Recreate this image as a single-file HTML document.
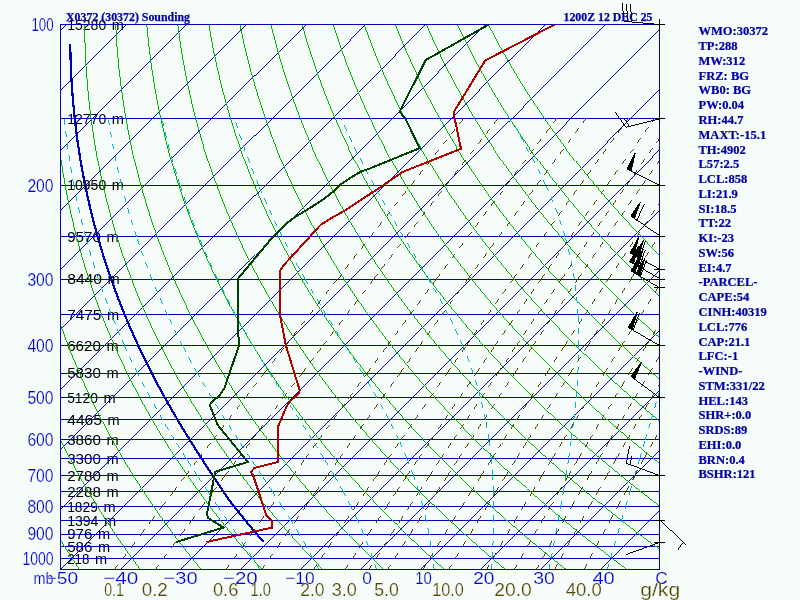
<!DOCTYPE html><html><head><meta charset="utf-8"><title>X0372 (30372) Sounding</title><style>html,body{margin:0;padding:0;background:#f5fcf9;overflow:hidden}svg{display:block}</style></head><body>
<svg width="800" height="600" viewBox="0 0 800 600">
<rect width="800" height="600" fill="#f5fcf9"/>
<defs><clipPath id="c"><rect x="60" y="24" width="600" height="546"/></clipPath></defs>
<g font-family="'Liberation Sans',Arial,sans-serif" stroke="#f5fcf9" stroke-width="0" font-size="14.6" fill="#000">
<text x="67.2" y="29.65"><tspan textLength="39" lengthAdjust="spacingAndGlyphs">15280</tspan> <tspan x="111.79">m</tspan></text>
<text x="67.2" y="123.68"><tspan textLength="39" lengthAdjust="spacingAndGlyphs">12770</tspan> <tspan x="111.79">m</tspan></text>
<text x="67.2" y="190.4"><tspan textLength="39" lengthAdjust="spacingAndGlyphs">10950</tspan> <tspan x="111.79">m</tspan></text>
<text x="67.2" y="242.15"><tspan textLength="33.6" lengthAdjust="spacingAndGlyphs">9570</tspan> <tspan x="106.39">m</tspan></text>
<text x="67.2" y="284.43"><tspan textLength="34.8" lengthAdjust="spacingAndGlyphs">8440</tspan> <tspan x="107.59">m</tspan></text>
<text x="67.2" y="320.18"><tspan textLength="34.2" lengthAdjust="spacingAndGlyphs">7475</tspan> <tspan x="106.99">m</tspan></text>
<text x="67.2" y="351.15"><tspan textLength="33.6" lengthAdjust="spacingAndGlyphs">6620</tspan> <tspan x="106.39">m</tspan></text>
<text x="67.2" y="378.47"><tspan textLength="33.6" lengthAdjust="spacingAndGlyphs">5830</tspan> <tspan x="106.39">m</tspan></text>
<text x="67.2" y="402.9"><tspan textLength="30.6" lengthAdjust="spacingAndGlyphs">5120</tspan> <tspan x="103.39">m</tspan></text>
<text x="67.2" y="425"><tspan textLength="34.8" lengthAdjust="spacingAndGlyphs">4465</tspan> <tspan x="107.59">m</tspan></text>
<text x="67.2" y="445.18"><tspan textLength="33.6" lengthAdjust="spacingAndGlyphs">3860</tspan> <tspan x="106.39">m</tspan></text>
<text x="67.2" y="463.75"><tspan textLength="33.6" lengthAdjust="spacingAndGlyphs">3300</tspan> <tspan x="106.39">m</tspan></text>
<text x="67.2" y="480.93"><tspan textLength="33.6" lengthAdjust="spacingAndGlyphs">2780</tspan> <tspan x="106.39">m</tspan></text>
<text x="67.2" y="496.93"><tspan textLength="33.6" lengthAdjust="spacingAndGlyphs">2288</tspan> <tspan x="106.39">m</tspan></text>
<text x="67.2" y="511.9"><tspan textLength="30.6" lengthAdjust="spacingAndGlyphs">1829</tspan> <tspan x="103.39">m</tspan></text>
<text x="67.2" y="525.96"><tspan textLength="31.2" lengthAdjust="spacingAndGlyphs">1394</tspan> <tspan x="103.99">m</tspan></text>
<text x="67.2" y="539.22"><tspan textLength="25.2" lengthAdjust="spacingAndGlyphs">976</tspan> <tspan x="97.99">m</tspan></text>
<text x="67.2" y="551.75"><tspan textLength="25.2" lengthAdjust="spacingAndGlyphs">586</tspan> <tspan x="97.99">m</tspan></text>
<text x="67.2" y="563.65"><tspan textLength="22.2" lengthAdjust="spacingAndGlyphs">218</tspan> <tspan x="94.99">m</tspan></text>
</g>
<g clip-path="url(#c)" shape-rendering="crispEdges">
<line x1="60" y1="118.5" x2="660" y2="118.5" stroke="#0000b4" stroke-width="0.99"/>
<line x1="60" y1="185.5" x2="660" y2="185.5" stroke="#0000b4" stroke-width="0.99"/>
<line x1="60" y1="236.5" x2="660" y2="236.5" stroke="#0000b4" stroke-width="0.99"/>
<line x1="60" y1="279.5" x2="660" y2="279.5" stroke="#0000b4" stroke-width="0.99"/>
<line x1="60" y1="314.5" x2="660" y2="314.5" stroke="#0000b4" stroke-width="0.99"/>
<line x1="60" y1="345.5" x2="660" y2="345.5" stroke="#0000b4" stroke-width="0.99"/>
<line x1="60" y1="373.5" x2="660" y2="373.5" stroke="#0000b4" stroke-width="0.99"/>
<line x1="60" y1="397.5" x2="660" y2="397.5" stroke="#0000b4" stroke-width="0.99"/>
<line x1="60" y1="419.5" x2="660" y2="419.5" stroke="#0000b4" stroke-width="0.99"/>
<line x1="60" y1="439.5" x2="660" y2="439.5" stroke="#0000b4" stroke-width="0.99"/>
<line x1="60" y1="458.5" x2="660" y2="458.5" stroke="#0000b4" stroke-width="0.99"/>
<line x1="60" y1="475.5" x2="660" y2="475.5" stroke="#0000b4" stroke-width="0.99"/>
<line x1="60" y1="491.5" x2="660" y2="491.5" stroke="#0000b4" stroke-width="0.99"/>
<line x1="60" y1="506.5" x2="660" y2="506.5" stroke="#0000b4" stroke-width="0.99"/>
<line x1="60" y1="520.5" x2="660" y2="520.5" stroke="#0000b4" stroke-width="0.99"/>
<line x1="60" y1="534.5" x2="660" y2="534.5" stroke="#0000b4" stroke-width="0.99"/>
<line x1="60" y1="546.5" x2="660" y2="546.5" stroke="#0000b4" stroke-width="0.99"/>
<line x1="60" y1="558.5" x2="660" y2="558.5" stroke="#0000b4" stroke-width="0.99"/>
<line x1="-478.7" y1="569.5" x2="65.17" y2="24.5" stroke="#0000b4" stroke-width="0.99"/>
<line x1="-418.74" y1="569.5" x2="125.13" y2="24.5" stroke="#0000b4" stroke-width="0.99"/>
<line x1="-358.78" y1="569.5" x2="185.1" y2="24.5" stroke="#0000b4" stroke-width="0.99"/>
<line x1="-298.81" y1="569.5" x2="245.06" y2="24.5" stroke="#0000b4" stroke-width="0.99"/>
<line x1="-238.85" y1="569.5" x2="305.02" y2="24.5" stroke="#0000b4" stroke-width="0.99"/>
<line x1="-178.89" y1="569.5" x2="364.98" y2="24.5" stroke="#0000b4" stroke-width="0.99"/>
<line x1="-118.92" y1="569.5" x2="424.95" y2="24.5" stroke="#0000b4" stroke-width="0.99"/>
<line x1="-58.96" y1="569.5" x2="484.91" y2="24.5" stroke="#0000b4" stroke-width="0.99"/>
<line x1="1" y1="569.5" x2="544.87" y2="24.5" stroke="#0000b4" stroke-width="0.99"/>
<line x1="60.96" y1="569.5" x2="604.84" y2="24.5" stroke="#0000b4" stroke-width="0.99"/>
<line x1="120.93" y1="569.5" x2="664.8" y2="24.5" stroke="#0000b4" stroke-width="0.99"/>
<line x1="180.89" y1="569.5" x2="724.76" y2="24.5" stroke="#0000b4" stroke-width="0.99"/>
<line x1="240.85" y1="569.5" x2="784.73" y2="24.5" stroke="#0000b4" stroke-width="0.99"/>
<line x1="300.82" y1="569.5" x2="844.69" y2="24.5" stroke="#0000b4" stroke-width="0.99"/>
<line x1="360.78" y1="569.5" x2="904.65" y2="24.5" stroke="#0000b4" stroke-width="0.99"/>
<line x1="420.74" y1="569.5" x2="964.61" y2="24.5" stroke="#0000b4" stroke-width="0.99"/>
<line x1="480.71" y1="569.5" x2="1024.58" y2="24.5" stroke="#0000b4" stroke-width="0.99"/>
<line x1="540.67" y1="569.5" x2="1084.54" y2="24.5" stroke="#0000b4" stroke-width="0.99"/>
<line x1="600.63" y1="569.5" x2="1144.5" y2="24.5" stroke="#0000b4" stroke-width="0.99"/>
<line x1="660.6" y1="569.5" x2="1204.47" y2="24.5" stroke="#0000b4" stroke-width="0.99"/>
<polyline points="79.75,569.77 78.26,567.55 76.76,565.31 75.26,563.04 73.76,560.76 72.25,558.45 70.74,556.12 69.22,553.76 67.7,551.39 66.18,548.98 64.65,546.55 63.11,544.1 61.58,541.62 60.04,539.11 58.49,536.58 56.94,534.02 55.39,531.42 53.83,528.8 52.27,526.15 50.7,523.47 49.13,520.76 47.56,518.02 45.98,515.24 44.4,512.43 42.81,509.58 41.22,506.7 39.63,503.78 38.03,500.83 36.43,497.84 34.83,494.8 33.22,491.73 31.6,488.62 29.99,485.46 28.37,482.27 26.75,479.02 25.12,475.73 23.49,472.4 21.86,469.01 20.23,465.57 18.59,462.09 16.95,458.55 15.31,454.95 13.67,451.3 12.02,447.59 10.38,443.82 8.73,439.98 7.08,436.08 5.43,432.12 3.77,428.09 2.12,423.98 0.47,419.8 -1.18,415.55 -2.83,411.21 -4.48,406.8 -6.13,402.29 -7.77,397.7 -9.41,393.01 -11.05,388.23 -12.68,383.35 -14.31,378.36 -15.93,373.27 -17.55,368.05 -19.15,362.72 -20.75,357.27 -22.34,351.68 -23.91,345.95 -25.47,340.08 -27.02,334.05 -28.55,327.87 -30.06,321.52 -31.55,314.98 -33.01,308.26 -34.45,301.34 -35.86,294.2 -37.23,286.84 -38.57,279.23 -39.86,271.37 -41.11,263.23 -42.3,254.8 -43.43,246.05 -44.49,236.95 -45.48,227.48 -46.38,217.61 -47.18,207.3 -47.87,196.52 -48.43,185.2 -48.84,173.3 -49.07,160.77 -49.11,147.51 -48.92,133.45 -48.45,118.48 -47.65,102.48 -46.47,85.3 -44.81,66.73 -42.58,46.55 -39.63,24.45" fill="none" stroke="#00b400" stroke-width="0.99" />
<polyline points="140.59,569.77 138.93,567.55 137.27,565.31 135.6,563.04 133.93,560.76 132.25,558.45 130.57,556.12 128.88,553.76 127.18,551.39 125.48,548.98 123.77,546.55 122.06,544.1 120.34,541.62 118.62,539.11 116.89,536.58 115.16,534.02 113.42,531.42 111.68,528.8 109.92,526.15 108.17,523.47 106.41,520.76 104.64,518.02 102.87,515.24 101.09,512.43 99.3,509.58 97.51,506.7 95.72,503.78 93.92,500.83 92.11,497.84 90.3,494.8 88.48,491.73 86.65,488.62 84.82,485.46 82.99,482.27 81.15,479.02 79.3,475.73 77.45,472.4 75.6,469.01 73.74,465.57 71.87,462.09 70,458.55 68.12,454.95 66.24,451.3 64.36,447.59 62.47,443.82 60.57,439.98 58.67,436.08 56.77,432.12 54.86,428.09 52.95,423.98 51.04,419.8 49.13,415.55 47.21,411.21 45.29,406.8 43.36,402.29 41.44,397.7 39.51,393.01 37.59,388.23 35.66,383.35 33.74,378.36 31.82,373.27 29.9,368.05 27.98,362.72 26.07,357.27 24.16,351.68 22.26,345.95 20.36,340.08 18.48,334.05 16.6,327.87 14.74,321.52 12.89,314.98 11.06,308.26 9.25,301.34 7.46,294.2 5.69,286.84 3.95,279.23 2.25,271.37 0.58,263.23 -1.04,254.8 -2.61,246.05 -4.13,236.95 -5.59,227.48 -6.97,217.61 -8.27,207.3 -9.47,196.52 -10.56,185.2 -11.52,173.3 -12.33,160.77 -12.97,147.51 -13.39,133.45 -13.57,118.48 -13.46,102.48 -12.99,85.3 -12.09,66.73 -10.66,46.55 -8.57,24.45" fill="none" stroke="#00b400" stroke-width="0.99" />
<polyline points="201.44,569.77 199.61,567.55 197.78,565.31 195.94,563.04 194.1,560.76 192.25,558.45 190.39,556.12 188.53,553.76 186.66,551.39 184.78,548.98 182.9,546.55 181.01,544.1 179.11,541.62 177.21,539.11 175.3,536.58 173.38,534.02 171.45,531.42 169.52,528.8 167.58,526.15 165.64,523.47 163.68,520.76 161.72,518.02 159.75,515.24 157.78,512.43 155.79,509.58 153.8,506.7 151.81,503.78 149.8,500.83 147.79,497.84 145.77,494.8 143.74,491.73 141.7,488.62 139.66,485.46 137.61,482.27 135.55,479.02 133.49,475.73 131.41,472.4 129.33,469.01 127.24,465.57 125.15,462.09 123.04,458.55 120.93,454.95 118.81,451.3 116.69,447.59 114.56,443.82 112.42,439.98 110.27,436.08 108.11,432.12 105.95,428.09 103.79,423.98 101.61,419.8 99.43,415.55 97.24,411.21 95.05,406.8 92.85,402.29 90.65,397.7 88.44,393.01 86.23,388.23 84.01,383.35 81.79,378.36 79.57,373.27 77.34,368.05 75.11,362.72 72.88,357.27 70.65,351.68 68.42,345.95 66.2,340.08 63.97,334.05 61.75,327.87 59.54,321.52 57.33,314.98 55.13,308.26 52.94,301.34 50.77,294.2 48.61,286.84 46.48,279.23 44.36,271.37 42.28,263.23 40.22,254.8 38.2,246.05 36.23,236.95 34.3,227.48 32.44,217.61 30.64,207.3 28.93,196.52 27.3,185.2 25.79,173.3 24.41,160.77 23.18,147.51 22.13,133.45 21.3,118.48 20.73,102.48 20.48,85.3 20.62,66.73 21.25,46.55 22.49,24.45" fill="none" stroke="#00b400" stroke-width="0.99" />
<polyline points="262.28,569.77 260.29,567.55 258.29,565.31 256.28,563.04 254.27,560.76 252.25,558.45 250.22,556.12 248.18,553.76 246.14,551.39 244.09,548.98 242.03,546.55 239.96,544.1 237.88,541.62 235.79,539.11 233.7,536.58 231.6,534.02 229.49,531.42 227.37,528.8 225.24,526.15 223.1,523.47 220.96,520.76 218.8,518.02 216.64,515.24 214.47,512.43 212.28,509.58 210.09,506.7 207.89,503.78 205.68,500.83 203.47,497.84 201.24,494.8 199,491.73 196.75,488.62 194.5,485.46 192.23,482.27 189.95,479.02 187.67,475.73 185.37,472.4 183.07,469.01 180.75,465.57 178.42,462.09 176.09,458.55 173.74,454.95 171.39,451.3 169.02,447.59 166.65,443.82 164.26,439.98 161.86,436.08 159.46,432.12 157.04,428.09 154.62,423.98 152.18,419.8 149.74,415.55 147.28,411.21 144.82,406.8 142.34,402.29 139.86,397.7 137.37,393.01 134.87,388.23 132.36,383.35 129.84,378.36 127.32,373.27 124.78,368.05 122.24,362.72 119.7,357.27 117.15,351.68 114.59,345.95 112.03,340.08 109.47,334.05 106.9,327.87 104.33,321.52 101.77,314.98 99.2,308.26 96.64,301.34 94.08,294.2 91.54,286.84 89,279.23 86.47,271.37 83.97,263.23 81.48,254.8 79.02,246.05 76.59,236.95 74.2,227.48 71.85,217.61 69.55,207.3 67.32,196.52 65.17,185.2 63.11,173.3 61.15,160.77 59.32,147.51 57.66,133.45 56.18,118.48 54.93,102.48 53.96,85.3 53.34,66.73 53.16,46.55 53.54,24.45" fill="none" stroke="#00b400" stroke-width="0.99" />
<polyline points="323.12,569.77 320.96,567.55 318.8,565.31 316.63,563.04 314.44,560.76 312.25,558.45 310.05,556.12 307.84,553.76 305.62,551.39 303.39,548.98 301.15,546.55 298.9,544.1 296.65,541.62 294.38,539.11 292.1,536.58 289.82,534.02 287.52,531.42 285.21,528.8 282.9,526.15 280.57,523.47 278.23,520.76 275.88,518.02 273.52,515.24 271.16,512.43 268.78,509.58 266.38,506.7 263.98,503.78 261.57,500.83 259.14,497.84 256.71,494.8 254.26,491.73 251.8,488.62 249.33,485.46 246.85,482.27 244.35,479.02 241.85,475.73 239.33,472.4 236.8,469.01 234.26,465.57 231.7,462.09 229.13,458.55 226.55,454.95 223.96,451.3 221.35,447.59 218.74,443.82 216.1,439.98 213.46,436.08 210.8,432.12 208.13,428.09 205.45,423.98 202.75,419.8 200.04,415.55 197.32,411.21 194.58,406.8 191.83,402.29 189.07,397.7 186.3,393.01 183.51,388.23 180.71,383.35 177.89,378.36 175.07,373.27 172.23,368.05 169.38,362.72 166.52,357.27 163.64,351.68 160.76,345.95 157.87,340.08 154.96,334.05 152.05,327.87 149.13,321.52 146.2,314.98 143.27,308.26 140.34,301.34 137.4,294.2 134.46,286.84 131.52,279.23 128.58,271.37 125.66,263.23 122.74,254.8 119.84,246.05 116.95,236.95 114.09,227.48 111.26,217.61 108.47,207.3 105.72,196.52 103.04,185.2 100.42,173.3 97.89,160.77 95.47,147.51 93.18,133.45 91.05,118.48 89.12,102.48 87.44,85.3 86.06,66.73 85.08,46.55 84.6,24.45" fill="none" stroke="#00b400" stroke-width="0.99" />
<polyline points="383.96,569.77 381.64,567.55 379.31,565.31 376.97,563.04 374.61,560.76 372.25,558.45 369.88,556.12 367.49,553.76 365.1,551.39 362.69,548.98 360.28,546.55 357.85,544.1 355.41,541.62 352.97,539.11 350.51,536.58 348.04,534.02 345.55,531.42 343.06,528.8 340.55,526.15 338.04,523.47 335.51,520.76 332.97,518.02 330.41,515.24 327.84,512.43 325.27,509.58 322.67,506.7 320.07,503.78 317.45,500.83 314.82,497.84 312.18,494.8 309.52,491.73 306.85,488.62 304.17,485.46 301.47,482.27 298.76,479.02 296.03,475.73 293.29,472.4 290.53,469.01 287.76,465.57 284.98,462.09 282.18,458.55 279.36,454.95 276.53,451.3 273.69,447.59 270.83,443.82 267.95,439.98 265.06,436.08 262.15,432.12 259.22,428.09 256.28,423.98 253.32,419.8 250.35,415.55 247.36,411.21 244.35,406.8 241.32,402.29 238.28,397.7 235.22,393.01 232.15,388.23 229.05,383.35 225.94,378.36 222.82,373.27 219.67,368.05 216.51,362.72 213.33,357.27 210.14,351.68 206.93,345.95 203.7,340.08 200.46,334.05 197.2,327.87 193.93,321.52 190.64,314.98 187.34,308.26 184.03,301.34 180.71,294.2 177.38,286.84 174.04,279.23 170.7,271.37 167.35,263.23 164,254.8 160.65,246.05 157.31,236.95 153.98,227.48 150.67,217.61 147.38,207.3 144.12,196.52 140.9,185.2 137.73,173.3 134.63,160.77 131.62,147.51 128.71,133.45 125.93,118.48 123.31,102.48 120.91,85.3 118.78,66.73 116.99,46.55 115.66,24.45" fill="none" stroke="#00b400" stroke-width="0.99" />
<polyline points="444.81,569.77 442.32,567.55 439.82,565.31 437.31,563.04 434.78,560.76 432.25,558.45 429.7,556.12 427.15,553.76 424.58,551.39 422,548.98 419.4,546.55 416.8,544.1 414.18,541.62 411.55,539.11 408.91,536.58 406.25,534.02 403.59,531.42 400.91,528.8 398.21,526.15 395.5,523.47 392.78,520.76 390.05,518.02 387.3,515.24 384.53,512.43 381.76,509.58 378.97,506.7 376.16,503.78 373.34,500.83 370.5,497.84 367.65,494.8 364.78,491.73 361.9,488.62 359,485.46 356.09,482.27 353.16,479.02 350.21,475.73 347.25,472.4 344.27,469.01 341.27,465.57 338.26,462.09 335.22,458.55 332.17,454.95 329.11,451.3 326.02,447.59 322.92,443.82 319.79,439.98 316.65,436.08 313.49,432.12 310.31,428.09 307.11,423.98 303.89,419.8 300.65,415.55 297.39,411.21 294.11,406.8 290.81,402.29 287.49,397.7 284.15,393.01 280.79,388.23 277.4,383.35 273.99,378.36 270.57,373.27 267.12,368.05 263.64,362.72 260.15,357.27 256.63,351.68 253.09,345.95 249.54,340.08 245.95,334.05 242.35,327.87 238.73,321.52 235.08,314.98 231.41,308.26 227.73,301.34 224.02,294.2 220.3,286.84 216.56,279.23 212.81,271.37 209.04,263.23 205.26,254.8 201.47,246.05 197.67,236.95 193.87,227.48 190.08,217.61 186.29,207.3 182.52,196.52 178.77,185.2 175.05,173.3 171.38,160.77 167.76,147.51 164.23,133.45 160.8,118.48 157.51,102.48 154.39,85.3 151.5,66.73 148.91,46.55 146.71,24.45" fill="none" stroke="#00b400" stroke-width="0.99" />
<polyline points="505.65,569.77 503,567.55 500.33,565.31 497.65,563.04 494.95,560.76 492.25,558.45 489.53,556.12 486.8,553.76 484.06,551.39 481.3,548.98 478.53,546.55 475.75,544.1 472.95,541.62 470.14,539.11 467.31,536.58 464.47,534.02 461.62,531.42 458.75,528.8 455.87,526.15 452.97,523.47 450.06,520.76 447.13,518.02 444.18,515.24 441.22,512.43 438.25,509.58 435.26,506.7 432.25,503.78 429.22,500.83 426.18,497.84 423.12,494.8 420.04,491.73 416.95,488.62 413.84,485.46 410.71,482.27 407.56,479.02 404.39,475.73 401.21,472.4 398,469.01 394.78,465.57 391.53,462.09 388.27,458.55 384.98,454.95 381.68,451.3 378.35,447.59 375.01,443.82 371.64,439.98 368.25,436.08 364.84,432.12 361.4,428.09 357.94,423.98 354.46,419.8 350.96,415.55 347.43,411.21 343.88,406.8 340.3,402.29 336.7,397.7 333.08,393.01 329.42,388.23 325.75,383.35 322.04,378.36 318.31,373.27 314.56,368.05 310.78,362.72 306.97,357.27 303.13,351.68 299.26,345.95 295.37,340.08 291.45,334.05 287.5,327.87 283.52,321.52 279.52,314.98 275.49,308.26 271.43,301.34 267.34,294.2 263.22,286.84 259.08,279.23 254.92,271.37 250.73,263.23 246.52,254.8 242.28,246.05 238.03,236.95 233.77,227.48 229.49,217.61 225.2,207.3 220.92,196.52 216.63,185.2 212.36,173.3 208.12,160.77 203.91,147.51 199.75,133.45 195.68,118.48 191.7,102.48 187.87,85.3 184.22,66.73 180.82,46.55 177.77,24.45" fill="none" stroke="#00b400" stroke-width="0.99" />
<polyline points="566.49,569.77 563.67,567.55 560.84,565.31 557.99,563.04 555.13,560.76 552.25,558.45 549.36,556.12 546.46,553.76 543.54,551.39 540.6,548.98 537.66,546.55 534.69,544.1 531.72,541.62 528.72,539.11 525.72,536.58 522.69,534.02 519.65,531.42 516.6,528.8 513.53,526.15 510.44,523.47 507.33,520.76 504.21,518.02 501.07,515.24 497.91,512.43 494.74,509.58 491.55,506.7 488.34,503.78 485.11,500.83 481.86,497.84 478.59,494.8 475.3,491.73 472,488.62 468.67,485.46 465.33,482.27 461.96,479.02 458.57,475.73 455.16,472.4 451.74,469.01 448.28,465.57 444.81,462.09 441.31,458.55 437.79,454.95 434.25,451.3 430.69,447.59 427.1,443.82 423.48,439.98 419.84,436.08 416.18,432.12 412.49,428.09 408.77,423.98 405.03,419.8 401.26,415.55 397.47,411.21 393.64,406.8 389.79,402.29 385.91,397.7 382,393.01 378.06,388.23 374.09,383.35 370.1,378.36 366.06,373.27 362,368.05 357.91,362.72 353.78,357.27 349.62,351.68 345.43,345.95 341.2,340.08 336.94,334.05 332.65,327.87 328.32,321.52 323.96,314.98 319.56,308.26 315.12,301.34 310.65,294.2 306.15,286.84 301.6,279.23 297.03,271.37 292.42,263.23 287.78,254.8 283.1,246.05 278.39,236.95 273.66,227.48 268.9,217.61 264.12,207.3 259.31,196.52 254.5,185.2 249.68,173.3 244.86,160.77 240.05,147.51 235.28,133.45 230.55,118.48 225.89,102.48 221.34,85.3 216.94,66.73 212.74,46.55 208.83,24.45" fill="none" stroke="#00b400" stroke-width="0.99" />
<polyline points="627.34,569.77 624.35,567.55 621.35,565.31 618.33,563.04 615.3,560.76 612.25,558.45 609.19,556.12 606.11,553.76 603.02,551.39 599.91,548.98 596.78,546.55 593.64,544.1 590.49,541.62 587.31,539.11 584.12,536.58 580.91,534.02 577.69,531.42 574.44,528.8 571.18,526.15 567.9,523.47 564.61,520.76 561.29,518.02 557.96,515.24 554.6,512.43 551.23,509.58 547.84,506.7 544.42,503.78 540.99,500.83 537.54,497.84 534.06,494.8 530.57,491.73 527.05,488.62 523.51,485.46 519.95,482.27 516.36,479.02 512.75,475.73 509.12,472.4 505.47,469.01 501.79,465.57 498.09,462.09 494.36,458.55 490.6,454.95 486.83,451.3 483.02,447.59 479.19,443.82 475.33,439.98 471.44,436.08 467.52,432.12 463.58,428.09 459.61,423.98 455.6,419.8 451.57,415.55 447.51,411.21 443.41,406.8 439.28,402.29 435.12,397.7 430.93,393.01 426.7,388.23 422.44,383.35 418.15,378.36 413.81,373.27 409.45,368.05 405.04,362.72 400.6,357.27 396.12,351.68 391.6,345.95 387.04,340.08 382.44,334.05 377.8,327.87 373.12,321.52 368.39,314.98 363.63,308.26 358.82,301.34 353.96,294.2 349.07,286.84 344.13,279.23 339.14,271.37 334.11,263.23 329.04,254.8 323.92,246.05 318.76,236.95 313.55,227.48 308.31,217.61 303.03,207.3 297.71,196.52 292.36,185.2 286.99,173.3 281.6,160.77 276.2,147.51 270.8,133.45 265.43,118.48 260.09,102.48 254.82,85.3 249.66,66.73 244.65,46.55 239.88,24.45" fill="none" stroke="#00b400" stroke-width="0.99" />
<polyline points="688.18,569.77 685.03,567.55 681.86,565.31 678.67,563.04 675.47,560.76 672.25,558.45 669.02,556.12 665.76,553.76 662.5,551.39 659.21,548.98 655.91,546.55 652.59,544.1 649.25,541.62 645.9,539.11 642.52,536.58 639.13,534.02 635.72,531.42 632.29,528.8 628.84,526.15 625.37,523.47 621.88,520.76 618.37,518.02 614.84,515.24 611.29,512.43 607.72,509.58 604.13,506.7 600.51,503.78 596.87,500.83 593.21,497.84 589.53,494.8 585.83,491.73 582.1,488.62 578.34,485.46 574.57,482.27 570.76,479.02 566.94,475.73 563.08,472.4 559.2,469.01 555.3,465.57 551.36,462.09 547.4,458.55 543.42,454.95 539.4,451.3 535.35,447.59 531.28,443.82 527.17,439.98 523.04,436.08 518.87,432.12 514.67,428.09 510.44,423.98 506.17,419.8 501.88,415.55 497.54,411.21 493.18,406.8 488.77,402.29 484.33,397.7 479.86,393.01 475.34,388.23 470.79,383.35 466.2,378.36 461.56,373.27 456.89,368.05 452.17,362.72 447.42,357.27 442.61,351.68 437.77,345.95 432.87,340.08 427.94,334.05 422.95,327.87 417.92,321.52 412.83,314.98 407.7,308.26 402.51,301.34 397.28,294.2 391.99,286.84 386.65,279.23 381.25,271.37 375.8,263.23 370.29,254.8 364.73,246.05 359.12,236.95 353.44,227.48 347.72,217.61 341.94,207.3 336.11,196.52 330.23,185.2 324.31,173.3 318.34,160.77 312.35,147.51 306.33,133.45 300.3,118.48 294.28,102.48 288.29,85.3 282.37,66.73 276.57,46.55 270.94,24.45" fill="none" stroke="#00b400" stroke-width="0.99" />
<polyline points="749.02,569.77 745.7,567.55 742.36,565.31 739.01,563.04 735.64,560.76 732.25,558.45 728.84,556.12 725.42,553.76 721.98,551.39 718.52,548.98 715.04,546.55 711.54,544.1 708.02,541.62 704.48,539.11 700.93,536.58 697.35,534.02 693.75,531.42 690.14,528.8 686.5,526.15 682.84,523.47 679.16,520.76 675.45,518.02 671.73,515.24 667.98,512.43 664.21,509.58 660.42,506.7 656.6,503.78 652.76,500.83 648.89,497.84 645,494.8 641.09,491.73 637.15,488.62 633.18,485.46 629.19,482.27 625.17,479.02 621.12,475.73 617.04,472.4 612.94,469.01 608.8,465.57 604.64,462.09 600.45,458.55 596.23,454.95 591.97,451.3 587.69,447.59 583.37,443.82 579.02,439.98 574.63,436.08 570.21,432.12 565.76,428.09 561.27,423.98 556.74,419.8 552.18,415.55 547.58,411.21 542.94,406.8 538.26,402.29 533.54,397.7 528.78,393.01 523.98,388.23 519.14,383.35 514.25,378.36 509.31,373.27 504.33,368.05 499.31,362.72 494.23,357.27 489.11,351.68 483.93,345.95 478.71,340.08 473.43,334.05 468.1,327.87 462.71,321.52 457.27,314.98 451.77,308.26 446.21,301.34 440.59,294.2 434.91,286.84 429.17,279.23 423.36,271.37 417.49,263.23 411.55,254.8 405.55,246.05 399.48,236.95 393.34,227.48 387.13,217.61 380.85,207.3 374.51,196.52 368.1,185.2 361.62,173.3 355.08,160.77 348.49,147.51 341.85,133.45 335.18,118.48 328.47,102.48 321.77,85.3 315.09,66.73 308.48,46.55 301.99,24.45" fill="none" stroke="#00b400" stroke-width="0.99" />
<polyline points="809.87,569.77 806.38,567.55 802.87,565.31 799.35,563.04 795.81,560.76 792.25,558.45 788.67,556.12 785.07,553.76 781.46,551.39 777.82,548.98 774.16,546.55 770.49,544.1 766.79,541.62 763.07,539.11 759.33,536.58 755.57,534.02 751.79,531.42 747.98,528.8 744.15,526.15 740.3,523.47 736.43,520.76 732.54,518.02 728.62,515.24 724.67,512.43 720.7,509.58 716.71,506.7 712.69,503.78 708.64,500.83 704.57,497.84 700.47,494.8 696.35,491.73 692.2,488.62 688.01,485.46 683.81,482.27 679.57,479.02 675.3,475.73 671,472.4 666.67,469.01 662.31,465.57 657.92,462.09 653.49,458.55 649.04,454.95 644.54,451.3 640.02,447.59 635.46,443.82 630.86,439.98 626.23,436.08 621.56,432.12 616.85,428.09 612.1,423.98 607.31,419.8 602.49,415.55 597.62,411.21 592.71,406.8 587.75,402.29 582.75,397.7 577.71,393.01 572.62,388.23 567.48,383.35 562.3,378.36 557.06,373.27 551.78,368.05 546.44,362.72 541.05,357.27 535.6,351.68 530.1,345.95 524.54,340.08 518.93,334.05 513.25,327.87 507.51,321.52 501.71,314.98 495.84,308.26 489.91,301.34 483.91,294.2 477.83,286.84 471.69,279.23 465.47,271.37 459.18,263.23 452.81,254.8 446.37,246.05 439.84,236.95 433.23,227.48 426.54,217.61 419.76,207.3 412.9,196.52 405.96,185.2 398.93,173.3 391.83,160.77 384.64,147.51 377.38,133.45 370.05,118.48 362.67,102.48 355.25,85.3 347.81,66.73 340.4,46.55 333.05,24.45" fill="none" stroke="#00b400" stroke-width="0.99" />
<polyline points="870.71,569.77 867.06,567.55 863.38,565.31 859.69,563.04 855.98,560.76 852.25,558.45 848.5,556.12 844.73,553.76 840.94,551.39 837.12,548.98 833.29,546.55 829.43,544.1 825.56,541.62 821.66,539.11 817.73,536.58 813.79,534.02 809.82,531.42 805.83,528.8 801.81,526.15 797.77,523.47 793.71,520.76 789.62,518.02 785.5,515.24 781.36,512.43 777.19,509.58 773,506.7 768.78,503.78 764.53,500.83 760.25,497.84 755.94,494.8 751.61,491.73 747.25,488.62 742.85,485.46 738.42,482.27 733.97,479.02 729.48,475.73 724.96,472.4 720.4,469.01 715.82,465.57 711.2,462.09 706.54,458.55 701.85,454.95 697.12,451.3 692.35,447.59 687.55,443.82 682.7,439.98 677.82,436.08 672.9,432.12 667.94,428.09 662.93,423.98 657.88,419.8 652.79,415.55 647.66,411.21 642.47,406.8 637.24,402.29 631.96,397.7 626.64,393.01 621.26,388.23 615.83,383.35 610.35,378.36 604.81,373.27 599.22,368.05 593.57,362.72 587.87,357.27 582.1,351.68 576.27,345.95 570.38,340.08 564.42,334.05 558.4,327.87 552.31,321.52 546.15,314.98 539.91,308.26 533.6,301.34 527.22,294.2 520.76,286.84 514.21,279.23 507.58,271.37 500.87,263.23 494.07,254.8 487.18,246.05 480.2,236.95 473.12,227.48 465.95,217.61 458.68,207.3 451.3,196.52 443.83,185.2 436.25,173.3 428.57,160.77 420.78,147.51 412.9,133.45 404.93,118.48 396.86,102.48 388.72,85.3 380.53,66.73 372.31,46.55 364.11,24.45" fill="none" stroke="#00b400" stroke-width="0.99" />
<polyline points="931.55,569.77 927.73,567.55 923.89,565.31 920.03,563.04 916.15,560.76 912.25,558.45 908.33,556.12 904.38,553.76 900.42,551.39 896.43,548.98 892.41,546.55 888.38,544.1 884.32,541.62 880.24,539.11 876.14,536.58 872.01,534.02 867.85,531.42 863.67,528.8 859.47,526.15 855.24,523.47 850.98,520.76 846.7,518.02 842.39,515.24 838.05,512.43 833.68,509.58 829.29,506.7 824.87,503.78 820.41,500.83 815.93,497.84 811.42,494.8 806.87,491.73 802.29,488.62 797.69,485.46 793.04,482.27 788.37,479.02 783.66,475.73 778.92,472.4 774.14,469.01 769.32,465.57 764.47,462.09 759.58,458.55 754.66,454.95 749.69,451.3 744.68,447.59 739.64,443.82 734.55,439.98 729.42,436.08 724.25,432.12 719.03,428.09 713.76,423.98 708.45,419.8 703.1,415.55 697.69,411.21 692.24,406.8 686.73,402.29 681.17,397.7 675.56,393.01 669.9,388.23 664.18,383.35 658.4,378.36 652.56,373.27 646.66,368.05 640.71,362.72 634.68,357.27 628.59,351.68 622.44,345.95 616.21,340.08 609.92,334.05 603.55,327.87 597.11,321.52 590.58,314.98 583.98,308.26 577.3,301.34 570.53,294.2 563.68,286.84 556.73,279.23 549.7,271.37 542.56,263.23 535.33,254.8 528,246.05 520.56,236.95 513.01,227.48 505.36,217.61 497.59,207.3 489.7,196.52 481.69,185.2 473.56,173.3 465.31,160.77 456.93,147.51 448.43,133.45 439.8,118.48 431.06,102.48 422.2,85.3 413.25,66.73 404.23,46.55 395.16,24.45" fill="none" stroke="#00b400" stroke-width="0.99" />
<polyline points="992.4,569.77 988.41,567.55 984.4,565.31 980.37,563.04 976.32,560.76 972.25,558.45 968.15,556.12 964.04,553.76 959.89,551.39 955.73,548.98 951.54,546.55 947.33,544.1 943.09,541.62 938.83,539.11 934.54,536.58 930.23,534.02 925.89,531.42 921.52,528.8 917.13,526.15 912.71,523.47 908.26,520.76 903.78,518.02 899.27,515.24 894.74,512.43 890.17,509.58 885.58,506.7 880.95,503.78 876.3,500.83 871.61,497.84 866.89,494.8 862.13,491.73 857.34,488.62 852.52,485.46 847.66,482.27 842.77,479.02 837.84,475.73 832.88,472.4 827.87,469.01 822.83,465.57 817.75,462.09 812.63,458.55 807.47,454.95 802.26,451.3 797.02,447.59 791.73,443.82 786.39,439.98 781.01,436.08 775.59,432.12 770.12,428.09 764.6,423.98 759.02,419.8 753.4,415.55 747.73,411.21 742,406.8 736.22,402.29 730.39,397.7 724.49,393.01 718.54,388.23 712.53,383.35 706.45,378.36 700.31,373.27 694.11,368.05 687.84,362.72 681.5,357.27 675.09,351.68 668.61,345.95 662.05,340.08 655.41,334.05 648.7,327.87 641.9,321.52 635.02,314.98 628.05,308.26 621,301.34 613.85,294.2 606.6,286.84 599.25,279.23 591.81,271.37 584.25,263.23 576.59,254.8 568.81,246.05 560.92,236.95 552.91,227.48 544.77,217.61 536.5,207.3 528.1,196.52 519.56,185.2 510.88,173.3 502.05,160.77 493.08,147.51 483.95,133.45 474.68,118.48 465.25,102.48 455.68,85.3 445.97,66.73 436.14,46.55 426.22,24.45" fill="none" stroke="#00b400" stroke-width="0.99" />
<polyline points="1053.24,569.77 1049.09,567.55 1044.91,565.31 1040.71,563.04 1036.49,560.76 1032.25,558.45 1027.98,556.12 1023.69,553.76 1019.37,551.39 1015.03,548.98 1010.67,546.55 1006.28,544.1 1001.86,541.62 997.41,539.11 992.94,536.58 988.44,534.02 983.92,531.42 979.37,528.8 974.78,526.15 970.17,523.47 965.53,520.76 960.86,518.02 956.16,515.24 951.43,512.43 946.67,509.58 941.87,506.7 937.04,503.78 932.18,500.83 927.29,497.84 922.36,494.8 917.39,491.73 912.39,488.62 907.36,485.46 902.28,482.27 897.17,479.02 892.02,475.73 886.84,472.4 881.61,469.01 876.34,465.57 871.03,462.09 865.67,458.55 860.28,454.95 854.84,451.3 849.35,447.59 843.82,443.82 838.24,439.98 832.61,436.08 826.93,432.12 821.21,428.09 815.43,423.98 809.59,419.8 803.71,415.55 797.77,411.21 791.77,406.8 785.71,402.29 779.6,397.7 773.42,393.01 767.18,388.23 760.87,383.35 754.5,378.36 748.06,373.27 741.55,368.05 734.97,362.72 728.32,357.27 721.58,351.68 714.77,345.95 707.88,340.08 700.91,334.05 693.85,327.87 686.7,321.52 679.46,314.98 672.13,308.26 664.69,301.34 657.16,294.2 649.52,286.84 641.78,279.23 633.92,271.37 625.94,263.23 617.85,254.8 609.63,246.05 601.28,236.95 592.8,227.48 584.18,217.61 575.41,207.3 566.5,196.52 557.42,185.2 548.19,173.3 538.79,160.77 529.22,147.51 519.48,133.45 509.55,118.48 499.44,102.48 489.15,85.3 478.69,66.73 468.05,46.55 457.28,24.45" fill="none" stroke="#00b400" stroke-width="0.99" />
<polyline points="1114.08,569.77 1109.76,567.55 1105.42,565.31 1101.06,563.04 1096.66,560.76 1092.25,558.45 1087.81,556.12 1083.34,553.76 1078.85,551.39 1074.34,548.98 1069.79,546.55 1065.22,544.1 1060.63,541.62 1056,539.11 1051.35,536.58 1046.66,534.02 1041.95,531.42 1037.21,528.8 1032.44,526.15 1027.64,523.47 1022.81,520.76 1017.94,518.02 1013.05,515.24 1008.12,512.43 1003.16,509.58 998.16,506.7 993.13,503.78 988.07,500.83 982.96,497.84 977.83,494.8 972.65,491.73 967.44,488.62 962.19,485.46 956.9,482.27 951.57,479.02 946.2,475.73 940.79,472.4 935.34,469.01 929.84,465.57 924.3,462.09 918.72,458.55 913.09,454.95 907.41,451.3 901.68,447.59 895.91,443.82 890.08,439.98 884.21,436.08 878.28,432.12 872.3,428.09 866.26,423.98 860.17,419.8 854.01,415.55 847.8,411.21 841.53,406.8 835.2,402.29 828.81,397.7 822.34,393.01 815.82,388.23 809.22,383.35 802.55,378.36 795.81,373.27 789,368.05 782.1,362.72 775.13,357.27 768.08,351.68 760.94,345.95 753.72,340.08 746.4,334.05 739,327.87 731.5,321.52 723.9,314.98 716.2,308.26 708.39,301.34 700.47,294.2 692.44,286.84 684.3,279.23 676.03,271.37 667.63,263.23 659.11,254.8 650.45,246.05 641.64,236.95 632.69,227.48 623.59,217.61 614.32,207.3 604.89,196.52 595.29,185.2 585.51,173.3 575.53,160.77 565.37,147.51 555,133.45 544.43,118.48 533.64,102.48 522.63,85.3 511.41,66.73 499.97,46.55 488.33,24.45" fill="none" stroke="#00b400" stroke-width="0.99" />
<polyline points="260.12,569.77 259.42,568.66 258.71,567.55 258,566.43 257.28,565.31 256.56,564.18 255.83,563.04 255.09,561.9 254.35,560.76 253.6,559.61 252.85,558.45" fill="none" stroke="#00b4c8" stroke-width="0.99" stroke-dasharray="6 6.2"/>
<polyline points="252.85,558.45 252.09,557.29 251.33,556.12 250.56,554.94 249.78,553.76 249,552.58 248.22,551.39 247.42,550.19 246.63,548.98 245.82,547.77 245.01,546.55" fill="none" stroke="#00b4c8" stroke-width="0.99" stroke-dasharray="6 6.2"/>
<polyline points="245.01,546.55 244.2,545.33 243.38,544.1 242.55,542.86 241.72,541.62 240.88,540.37 240.04,539.11 239.19,537.85 238.33,536.58 237.47,535.3 236.6,534.02" fill="none" stroke="#00b4c8" stroke-width="0.99" stroke-dasharray="6 6.2"/>
<polyline points="236.6,534.02 235.73,532.72 234.85,531.42 233.97,530.12 233.08,528.8 232.18,527.48 231.28,526.15 230.37,524.82 229.46,523.47 228.54,522.12 227.62,520.76" fill="none" stroke="#00b4c8" stroke-width="0.99" stroke-dasharray="6 6.2"/>
<polyline points="227.62,520.76 226.69,519.39 225.75,518.02 224.81,516.63 223.86,515.24 222.91,513.84 221.95,512.43 220.99,511.01 220.02,509.58 219.04,508.15 218.06,506.7" fill="none" stroke="#00b4c8" stroke-width="0.99" stroke-dasharray="6 6.2"/>
<polyline points="218.06,506.7 217.08,505.25 216.08,503.78 215.09,502.31 214.09,500.83 213.08,499.34 212.06,497.84 211.05,496.33 210.02,494.8 208.99,493.27 207.96,491.73" fill="none" stroke="#00b4c8" stroke-width="0.99" stroke-dasharray="6 6.2"/>
<polyline points="207.96,491.73 206.92,490.18 205.87,488.62 204.82,487.05 203.77,485.46 202.71,483.87 201.64,482.27 200.57,480.65 199.5,479.02 198.42,477.38 197.33,475.73" fill="none" stroke="#00b4c8" stroke-width="0.99" stroke-dasharray="6 6.2"/>
<polyline points="197.33,475.73 196.24,474.07 195.15,472.4 194.05,470.71 192.94,469.01 191.83,467.3 190.72,465.57 189.6,463.84 188.48,462.09 187.35,460.32 186.21,458.55" fill="none" stroke="#00b4c8" stroke-width="0.99" stroke-dasharray="6 6.2"/>
<polyline points="186.21,458.55 185.08,456.75 183.94,454.95 182.79,453.13 181.64,451.3 180.48,449.45 179.32,447.59 178.16,445.71 176.99,443.82 175.82,441.91 174.64,439.98" fill="none" stroke="#00b4c8" stroke-width="0.99" stroke-dasharray="6 6.2"/>
<polyline points="174.64,439.98 173.46,438.04 172.28,436.08 171.09,434.11 169.89,432.12 168.7,430.11 167.5,428.09 166.29,426.04 165.08,423.98 163.87,421.9 162.65,419.8" fill="none" stroke="#00b4c8" stroke-width="0.99" stroke-dasharray="6 6.2"/>
<polyline points="162.65,419.8 161.43,417.69 160.21,415.55 158.98,413.39 157.75,411.21 156.52,409.02 155.28,406.8 154.04,404.56 152.79,402.29 151.55,400.01 150.29,397.7" fill="none" stroke="#00b4c8" stroke-width="0.99" stroke-dasharray="6 6.2"/>
<polyline points="150.29,397.7 149.04,395.37 147.78,393.01 146.52,390.64 145.26,388.23 143.99,385.8 142.72,383.35 141.45,380.87 140.17,378.36 138.9,375.83 137.62,373.27" fill="none" stroke="#00b4c8" stroke-width="0.99" stroke-dasharray="6 6.2"/>
<polyline points="137.62,373.27 136.33,370.67 135.05,368.05 133.76,365.4 132.47,362.72 131.18,360.01 129.88,357.27 128.58,354.49 127.28,351.68 125.98,348.83 124.68,345.95" fill="none" stroke="#00b4c8" stroke-width="0.99" stroke-dasharray="6 6.2"/>
<polyline points="124.68,345.95 123.38,343.03 122.07,340.08 120.77,337.09 119.46,334.05 118.15,330.98 116.84,327.87 115.53,324.71 114.22,321.52 112.9,318.27 111.59,314.98" fill="none" stroke="#00b4c8" stroke-width="0.99" stroke-dasharray="6 6.2"/>
<polyline points="111.59,314.98 110.28,311.65 108.97,308.26 107.65,304.82 106.34,301.34 105.03,297.8 103.72,294.2 102.42,290.55 101.11,286.84 99.81,283.07 98.51,279.23" fill="none" stroke="#00b4c8" stroke-width="0.99" stroke-dasharray="6 6.2"/>
<polyline points="98.51,279.23 97.21,275.33 95.91,271.37 94.62,267.34 93.33,263.23 92.05,259.05 90.77,254.8 89.5,250.46 88.24,246.05 86.98,241.54 85.73,236.95" fill="none" stroke="#00b4c8" stroke-width="0.99" stroke-dasharray="6 6.2"/>
<polyline points="85.73,236.95 84.49,232.26 83.25,227.48 82.03,222.6 80.82,217.61 79.62,212.52 78.44,207.3 77.27,201.97 76.12,196.52 74.98,190.93 73.87,185.2" fill="none" stroke="#00b4c8" stroke-width="0.99" stroke-dasharray="6 6.2"/>
<polyline points="73.87,185.2 72.78,179.33 71.71,173.3 70.67,167.12 69.65,160.77 68.67,154.23 67.72,147.51 66.81,140.59 65.94,133.45 65.11,126.09 64.34,118.48" fill="none" stroke="#00b4c8" stroke-width="0.99" stroke-dasharray="6 6.2"/>
<polyline points="318.69,569.77 318.13,568.66 317.57,567.55 317,566.43 316.43,565.31 315.85,564.18 315.26,563.04 314.67,561.9 314.07,560.76 313.46,559.61 312.85,558.45" fill="none" stroke="#00b4c8" stroke-width="0.99" stroke-dasharray="6 6.2"/>
<polyline points="312.85,558.45 312.23,557.29 311.6,556.12 310.97,554.94 310.33,553.76 309.68,552.58 309.03,551.39 308.37,550.19 307.7,548.98 307.03,547.77 306.34,546.55" fill="none" stroke="#00b4c8" stroke-width="0.99" stroke-dasharray="6 6.2"/>
<polyline points="306.34,546.55 305.65,545.33 304.96,544.1 304.25,542.86 303.54,541.62 302.82,540.37 302.09,539.11 301.36,537.85 300.61,536.58 299.86,535.3 299.1,534.02" fill="none" stroke="#00b4c8" stroke-width="0.99" stroke-dasharray="6 6.2"/>
<polyline points="299.1,534.02 298.34,532.72 297.56,531.42 296.78,530.12 295.99,528.8 295.19,527.48 294.39,526.15 293.57,524.82 292.75,523.47 291.92,522.12 291.08,520.76" fill="none" stroke="#00b4c8" stroke-width="0.99" stroke-dasharray="6 6.2"/>
<polyline points="291.08,520.76 290.24,519.39 289.38,518.02 288.52,516.63 287.64,515.24 286.76,513.84 285.88,512.43 284.98,511.01 284.07,509.58 283.16,508.15 282.23,506.7" fill="none" stroke="#00b4c8" stroke-width="0.99" stroke-dasharray="6 6.2"/>
<polyline points="282.23,506.7 281.3,505.25 280.36,503.78 279.41,502.31 278.46,500.83 277.49,499.34 276.52,497.84 275.53,496.33 274.54,494.8 273.54,493.27 272.53,491.73" fill="none" stroke="#00b4c8" stroke-width="0.99" stroke-dasharray="6 6.2"/>
<polyline points="272.53,491.73 271.52,490.18 270.49,488.62 269.46,487.05 268.41,485.46 267.36,483.87 266.3,482.27 265.23,480.65 264.16,479.02 263.07,477.38 261.98,475.73" fill="none" stroke="#00b4c8" stroke-width="0.99" stroke-dasharray="6 6.2"/>
<polyline points="261.98,475.73 260.87,474.07 259.76,472.4 258.64,470.71 257.51,469.01 256.38,467.3 255.23,465.57 254.08,463.84 252.92,462.09 251.75,460.32 250.57,458.55" fill="none" stroke="#00b4c8" stroke-width="0.99" stroke-dasharray="6 6.2"/>
<polyline points="250.57,458.55 249.39,456.75 248.2,454.95 246.99,453.13 245.78,451.3 244.57,449.45 243.34,447.59 242.11,445.71 240.87,443.82 239.62,441.91 238.37,439.98" fill="none" stroke="#00b4c8" stroke-width="0.99" stroke-dasharray="6 6.2"/>
<polyline points="238.37,439.98 237.1,438.04 235.83,436.08 234.55,434.11 233.27,432.12 231.98,430.11 230.68,428.09 229.37,426.04 228.05,423.98 226.73,421.9 225.41,419.8" fill="none" stroke="#00b4c8" stroke-width="0.99" stroke-dasharray="6 6.2"/>
<polyline points="225.41,419.8 224.07,417.69 222.73,415.55 221.38,413.39 220.03,411.21 218.66,409.02 217.3,406.8 215.92,404.56 214.54,402.29 213.15,400.01 211.76,397.7" fill="none" stroke="#00b4c8" stroke-width="0.99" stroke-dasharray="6 6.2"/>
<polyline points="211.76,397.7 210.36,395.37 208.96,393.01 207.55,390.64 206.13,388.23 204.71,385.8 203.28,383.35 201.84,380.87 200.4,378.36 198.96,375.83 197.51,373.27" fill="none" stroke="#00b4c8" stroke-width="0.99" stroke-dasharray="6 6.2"/>
<polyline points="197.51,373.27 196.05,370.67 194.59,368.05 193.13,365.4 191.66,362.72 190.18,360.01 188.7,357.27 187.22,354.49 185.73,351.68 184.23,348.83 182.74,345.95" fill="none" stroke="#00b4c8" stroke-width="0.99" stroke-dasharray="6 6.2"/>
<polyline points="182.74,345.95 181.23,343.03 179.73,340.08 178.22,337.09 176.7,334.05 175.19,330.98 173.66,327.87 172.14,324.71 170.61,321.52 169.08,318.27 167.55,314.98" fill="none" stroke="#00b4c8" stroke-width="0.99" stroke-dasharray="6 6.2"/>
<polyline points="167.55,314.98 166.01,311.65 164.47,308.26 162.93,304.82 161.38,301.34 159.84,297.8 158.29,294.2 156.74,290.55 155.19,286.84 153.63,283.07 152.08,279.23" fill="none" stroke="#00b4c8" stroke-width="0.99" stroke-dasharray="6 6.2"/>
<polyline points="152.08,279.23 150.53,275.33 148.98,271.37 147.42,267.34 145.87,263.23 144.32,259.05 142.77,254.8 141.22,250.46 139.68,246.05 138.14,241.54 136.6,236.95" fill="none" stroke="#00b4c8" stroke-width="0.99" stroke-dasharray="6 6.2"/>
<polyline points="136.6,236.95 135.06,232.26 133.53,227.48 132.01,222.6 130.5,217.61 128.99,212.52 127.49,207.3 126,201.97 124.52,196.52 123.06,190.93 121.6,185.2" fill="none" stroke="#00b4c8" stroke-width="0.99" stroke-dasharray="6 6.2"/>
<polyline points="121.6,185.2 120.17,179.33 118.75,173.3 117.35,167.12 115.97,160.77 114.62,154.23 113.29,147.51 111.99,140.59 110.73,133.45 109.5,126.09 108.31,118.48" fill="none" stroke="#00b4c8" stroke-width="0.99" stroke-dasharray="6 6.2"/>
<polyline points="376.56,569.77 376.21,568.66 375.86,567.55 375.5,566.43 375.14,565.31 374.77,564.18 374.4,563.04 374.02,561.9 373.64,560.76 373.25,559.61 372.85,558.45" fill="none" stroke="#00b4c8" stroke-width="0.99" stroke-dasharray="6 6.2"/>
<polyline points="372.85,558.45 372.45,557.29 372.04,556.12 371.62,554.94 371.2,553.76 370.78,552.58 370.34,551.39 369.9,550.19 369.46,548.98 369,547.77 368.54,546.55" fill="none" stroke="#00b4c8" stroke-width="0.99" stroke-dasharray="6 6.2"/>
<polyline points="368.54,546.55 368.08,545.33 367.6,544.1 367.12,542.86 366.63,541.62 366.14,540.37 365.63,539.11 365.12,537.85 364.61,536.58 364.08,535.3 363.55,534.02" fill="none" stroke="#00b4c8" stroke-width="0.99" stroke-dasharray="6 6.2"/>
<polyline points="363.55,534.02 363,532.72 362.45,531.42 361.89,530.12 361.33,528.8 360.75,527.48 360.17,526.15 359.58,524.82 358.97,523.47 358.36,522.12 357.74,520.76" fill="none" stroke="#00b4c8" stroke-width="0.99" stroke-dasharray="6 6.2"/>
<polyline points="357.74,520.76 357.11,519.39 356.48,518.02 355.83,516.63 355.17,515.24 354.5,513.84 353.83,512.43 353.14,511.01 352.44,509.58 351.74,508.15 351.02,506.7" fill="none" stroke="#00b4c8" stroke-width="0.99" stroke-dasharray="6 6.2"/>
<polyline points="351.02,506.7 350.29,505.25 349.55,503.78 348.8,502.31 348.04,500.83 347.27,499.34 346.49,497.84 345.69,496.33 344.89,494.8 344.07,493.27 343.24,491.73" fill="none" stroke="#00b4c8" stroke-width="0.99" stroke-dasharray="6 6.2"/>
<polyline points="343.24,491.73 342.4,490.18 341.55,488.62 340.69,487.05 339.81,485.46 338.92,483.87 338.02,482.27 337.11,480.65 336.18,479.02 335.25,477.38 334.3,475.73" fill="none" stroke="#00b4c8" stroke-width="0.99" stroke-dasharray="6 6.2"/>
<polyline points="334.3,475.73 333.33,474.07 332.36,472.4 331.37,470.71 330.37,469.01 329.35,467.3 328.32,465.57 327.28,463.84 326.23,462.09 325.16,460.32 324.08,458.55" fill="none" stroke="#00b4c8" stroke-width="0.99" stroke-dasharray="6 6.2"/>
<polyline points="324.08,458.55 322.98,456.75 321.87,454.95 320.75,453.13 319.61,451.3 318.46,449.45 317.3,447.59 316.12,445.71 314.93,443.82 313.73,441.91 312.51,439.98" fill="none" stroke="#00b4c8" stroke-width="0.99" stroke-dasharray="6 6.2"/>
<polyline points="312.51,439.98 311.28,438.04 310.04,436.08 308.78,434.11 307.5,432.12 306.22,430.11 304.92,428.09 303.61,426.04 302.28,423.98 300.94,421.9 299.58,419.8" fill="none" stroke="#00b4c8" stroke-width="0.99" stroke-dasharray="6 6.2"/>
<polyline points="299.58,419.8 298.22,417.69 296.84,415.55 295.45,413.39 294.04,411.21 292.62,409.02 291.19,406.8 289.74,404.56 288.29,402.29 286.82,400.01 285.33,397.7" fill="none" stroke="#00b4c8" stroke-width="0.99" stroke-dasharray="6 6.2"/>
<polyline points="285.33,397.7 283.84,395.37 282.33,393.01 280.81,390.64 279.28,388.23 277.74,385.8 276.18,383.35 274.62,380.87 273.04,378.36 271.45,375.83 269.85,373.27" fill="none" stroke="#00b4c8" stroke-width="0.99" stroke-dasharray="6 6.2"/>
<polyline points="269.85,373.27 268.24,370.67 266.62,368.05 264.98,365.4 263.34,362.72 261.69,360.01 260.03,357.27 258.35,354.49 256.67,351.68 254.98,348.83 253.27,345.95" fill="none" stroke="#00b4c8" stroke-width="0.99" stroke-dasharray="6 6.2"/>
<polyline points="253.27,345.95 251.56,343.03 249.84,340.08 248.11,337.09 246.37,334.05 244.62,330.98 242.87,327.87 241.11,324.71 239.33,321.52 237.55,318.27 235.77,314.98" fill="none" stroke="#00b4c8" stroke-width="0.99" stroke-dasharray="6 6.2"/>
<polyline points="235.77,314.98 233.97,311.65 232.17,308.26 230.36,304.82 228.54,301.34 226.72,297.8 224.89,294.2 223.06,290.55 221.22,286.84 219.37,283.07 217.52,279.23" fill="none" stroke="#00b4c8" stroke-width="0.99" stroke-dasharray="6 6.2"/>
<polyline points="217.52,279.23 215.66,275.33 213.8,271.37 211.93,267.34 210.06,263.23 208.19,259.05 206.31,254.8 204.43,250.46 202.54,246.05 200.66,241.54 198.77,236.95" fill="none" stroke="#00b4c8" stroke-width="0.99" stroke-dasharray="6 6.2"/>
<polyline points="198.77,236.95 196.88,232.26 194.99,227.48 193.1,222.6 191.22,217.61 189.33,212.52 187.45,207.3 185.57,201.97 183.69,196.52 181.82,190.93 179.96,185.2" fill="none" stroke="#00b4c8" stroke-width="0.99" stroke-dasharray="6 6.2"/>
<polyline points="179.96,185.2 178.1,179.33 176.25,173.3 174.42,167.12 172.6,160.77 170.79,154.23 169,147.51 167.23,140.59 165.48,133.45 163.76,126.09 162.07,118.48" fill="none" stroke="#00b4c8" stroke-width="0.99" stroke-dasharray="6 6.2"/>
<polyline points="434.21,569.77 434.09,568.66 433.97,567.55 433.84,566.43 433.71,565.31 433.57,564.18 433.43,563.04 433.29,561.9 433.15,560.76 433,559.61 432.85,558.45" fill="none" stroke="#00b4c8" stroke-width="0.99" stroke-dasharray="6 6.2"/>
<polyline points="432.85,558.45 432.7,557.29 432.54,556.12 432.37,554.94 432.21,553.76 432.04,552.58 431.86,551.39 431.69,550.19 431.5,548.98 431.32,547.77 431.13,546.55" fill="none" stroke="#00b4c8" stroke-width="0.99" stroke-dasharray="6 6.2"/>
<polyline points="431.13,546.55 430.93,545.33 430.73,544.1 430.53,542.86 430.32,541.62 430.11,540.37 429.89,539.11 429.67,537.85 429.44,536.58 429.2,535.3 428.97,534.02" fill="none" stroke="#00b4c8" stroke-width="0.99" stroke-dasharray="6 6.2"/>
<polyline points="428.97,534.02 428.72,532.72 428.47,531.42 428.22,530.12 427.96,528.8 427.69,527.48 427.42,526.15 427.14,524.82 426.85,523.47 426.56,522.12 426.26,520.76" fill="none" stroke="#00b4c8" stroke-width="0.99" stroke-dasharray="6 6.2"/>
<polyline points="426.26,520.76 425.96,519.39 425.65,518.02 425.33,516.63 425,515.24 424.67,513.84 424.33,512.43 423.98,511.01 423.63,509.58 423.26,508.15 422.89,506.7" fill="none" stroke="#00b4c8" stroke-width="0.99" stroke-dasharray="6 6.2"/>
<polyline points="422.89,506.7 422.51,505.25 422.13,503.78 421.73,502.31 421.32,500.83 420.91,499.34 420.49,497.84 420.05,496.33 419.61,494.8 419.16,493.27 418.69,491.73" fill="none" stroke="#00b4c8" stroke-width="0.99" stroke-dasharray="6 6.2"/>
<polyline points="418.69,491.73 418.22,490.18 417.74,488.62 417.24,487.05 416.74,485.46 416.22,483.87 415.7,482.27 415.16,480.65 414.61,479.02 414.04,477.38 413.47,475.73" fill="none" stroke="#00b4c8" stroke-width="0.99" stroke-dasharray="6 6.2"/>
<polyline points="413.47,475.73 412.88,474.07 412.28,472.4 411.66,470.71 411.04,469.01 410.39,467.3 409.74,465.57 409.07,463.84 408.38,462.09 407.68,460.32 406.97,458.55" fill="none" stroke="#00b4c8" stroke-width="0.99" stroke-dasharray="6 6.2"/>
<polyline points="406.97,458.55 406.24,456.75 405.49,454.95 404.73,453.13 403.95,451.3 403.16,449.45 402.35,447.59 401.52,445.71 400.67,443.82 399.8,441.91 398.92,439.98" fill="none" stroke="#00b4c8" stroke-width="0.99" stroke-dasharray="6 6.2"/>
<polyline points="398.92,439.98 398.02,438.04 397.1,436.08 396.16,434.11 395.2,432.12 394.22,430.11 393.22,428.09 392.2,426.04 391.15,423.98 390.09,421.9 389.01,419.8" fill="none" stroke="#00b4c8" stroke-width="0.99" stroke-dasharray="6 6.2"/>
<polyline points="389.01,419.8 387.9,417.69 386.78,415.55 385.63,413.39 384.46,411.21 383.26,409.02 382.04,406.8 380.8,404.56 379.54,402.29 378.25,400.01 376.94,397.7" fill="none" stroke="#00b4c8" stroke-width="0.99" stroke-dasharray="6 6.2"/>
<polyline points="376.94,397.7 375.61,395.37 374.25,393.01 372.86,390.64 371.46,388.23 370.03,385.8 368.57,383.35 367.09,380.87 365.58,378.36 364.05,375.83 362.5,373.27" fill="none" stroke="#00b4c8" stroke-width="0.99" stroke-dasharray="6 6.2"/>
<polyline points="362.5,373.27 360.92,370.67 359.32,368.05 357.69,365.4 356.04,362.72 354.36,360.01 352.66,357.27 350.93,354.49 349.18,351.68 347.41,348.83 345.62,345.95" fill="none" stroke="#00b4c8" stroke-width="0.99" stroke-dasharray="6 6.2"/>
<polyline points="345.62,345.95 343.8,343.03 341.95,340.08 340.09,337.09 338.2,334.05 336.29,330.98 334.36,327.87 332.41,324.71 330.43,321.52 328.44,318.27 326.42,314.98" fill="none" stroke="#00b4c8" stroke-width="0.99" stroke-dasharray="6 6.2"/>
<polyline points="326.42,314.98 324.39,311.65 322.33,308.26 320.26,304.82 318.16,301.34 316.05,297.8 313.92,294.2 311.77,290.55 309.61,286.84 307.43,283.07 305.23,279.23" fill="none" stroke="#00b4c8" stroke-width="0.99" stroke-dasharray="6 6.2"/>
<polyline points="305.23,279.23 303.01,275.33 300.78,271.37 298.54,267.34 296.28,263.23 294.01,259.05 291.72,254.8 289.42,250.46 287.11,246.05 284.79,241.54 282.45,236.95" fill="none" stroke="#00b4c8" stroke-width="0.99" stroke-dasharray="6 6.2"/>
<polyline points="282.45,236.95 280.11,232.26 277.75,227.48 275.38,222.6 273.01,217.61 270.63,212.52 268.24,207.3 265.84,201.97 263.43,196.52 261.02,190.93 258.61,185.2" fill="none" stroke="#00b4c8" stroke-width="0.99" stroke-dasharray="6 6.2"/>
<polyline points="258.61,185.2 256.19,179.33 253.78,173.3 251.36,167.12 248.94,160.77 246.52,154.23 244.11,147.51 241.71,140.59 239.31,133.45 236.92,126.09 234.55,118.48" fill="none" stroke="#00b4c8" stroke-width="0.99" stroke-dasharray="6 6.2"/>
<polyline points="491.55,569.77 491.63,568.66 491.7,567.55 491.77,566.43 491.84,565.31 491.91,564.18 491.98,563.04 492.05,561.9 492.12,560.76 492.18,559.61 492.25,558.45" fill="none" stroke="#00b4c8" stroke-width="0.99" stroke-dasharray="6 6.2"/>
<polyline points="492.25,558.45 492.31,557.29 492.38,556.12 492.44,554.94 492.5,553.76 492.56,552.58 492.62,551.39 492.68,550.19 492.73,548.98 492.79,547.77 492.84,546.55" fill="none" stroke="#00b4c8" stroke-width="0.99" stroke-dasharray="6 6.2"/>
<polyline points="492.84,546.55 492.9,545.33 492.95,544.1 493,542.86 493.04,541.62 493.09,540.37 493.14,539.11 493.18,537.85 493.22,536.58 493.26,535.3 493.3,534.02" fill="none" stroke="#00b4c8" stroke-width="0.99" stroke-dasharray="6 6.2"/>
<polyline points="493.3,534.02 493.33,532.72 493.37,531.42 493.4,530.12 493.43,528.8 493.46,527.48 493.48,526.15 493.51,524.82 493.53,523.47 493.55,522.12 493.57,520.76" fill="none" stroke="#00b4c8" stroke-width="0.99" stroke-dasharray="6 6.2"/>
<polyline points="493.57,520.76 493.58,519.39 493.59,518.02 493.6,516.63 493.61,515.24 493.61,513.84 493.61,512.43 493.61,511.01 493.61,509.58 493.6,508.15 493.59,506.7" fill="none" stroke="#00b4c8" stroke-width="0.99" stroke-dasharray="6 6.2"/>
<polyline points="493.59,506.7 493.57,505.25 493.55,503.78 493.53,502.31 493.51,500.83 493.48,499.34 493.45,497.84 493.41,496.33 493.37,494.8 493.32,493.27 493.27,491.73" fill="none" stroke="#00b4c8" stroke-width="0.99" stroke-dasharray="6 6.2"/>
<polyline points="493.27,491.73 493.22,490.18 493.16,488.62 493.1,487.05 493.03,485.46 492.96,483.87 492.88,482.27 492.8,480.65 492.71,479.02 492.61,477.38 492.51,475.73" fill="none" stroke="#00b4c8" stroke-width="0.99" stroke-dasharray="6 6.2"/>
<polyline points="492.51,475.73 492.4,474.07 492.29,472.4 492.17,470.71 492.05,469.01 491.91,467.3 491.77,465.57 491.62,463.84 491.47,462.09 491.31,460.32 491.14,458.55" fill="none" stroke="#00b4c8" stroke-width="0.99" stroke-dasharray="6 6.2"/>
<polyline points="491.14,458.55 490.96,456.75 490.77,454.95 490.57,453.13 490.37,451.3 490.15,449.45 489.93,447.59 489.69,445.71 489.44,443.82 489.19,441.91 488.92,439.98" fill="none" stroke="#00b4c8" stroke-width="0.99" stroke-dasharray="6 6.2"/>
<polyline points="488.92,439.98 488.64,438.04 488.35,436.08 488.05,434.11 487.73,432.12 487.4,430.11 487.06,428.09 486.7,426.04 486.33,423.98 485.94,421.9 485.54,419.8" fill="none" stroke="#00b4c8" stroke-width="0.99" stroke-dasharray="6 6.2"/>
<polyline points="485.54,419.8 485.12,417.69 484.69,415.55 484.23,413.39 483.76,411.21 483.28,409.02 482.77,406.8 482.24,404.56 481.69,402.29 481.12,400.01 480.53,397.7" fill="none" stroke="#00b4c8" stroke-width="0.99" stroke-dasharray="6 6.2"/>
<polyline points="480.53,397.7 479.92,395.37 479.28,393.01 478.62,390.64 477.94,388.23 477.23,385.8 476.49,383.35 475.72,380.87 474.93,378.36 474.11,375.83 473.25,373.27" fill="none" stroke="#00b4c8" stroke-width="0.99" stroke-dasharray="6 6.2"/>
<polyline points="473.25,373.27 472.37,370.67 471.45,368.05 470.5,365.4 469.52,362.72 468.5,360.01 467.44,357.27 466.35,354.49 465.22,351.68 464.04,348.83 462.83,345.95" fill="none" stroke="#00b4c8" stroke-width="0.99" stroke-dasharray="6 6.2"/>
<polyline points="462.83,345.95 461.58,343.03 460.28,340.08 458.94,337.09 457.55,334.05 456.12,330.98 454.64,327.87 453.12,324.71 451.54,321.52 449.92,318.27 448.24,314.98" fill="none" stroke="#00b4c8" stroke-width="0.99" stroke-dasharray="6 6.2"/>
<polyline points="448.24,314.98 446.52,311.65 444.74,308.26 442.91,304.82 441.02,301.34 439.08,297.8 437.09,294.2 435.04,290.55 432.94,286.84 430.79,283.07 428.58,279.23" fill="none" stroke="#00b4c8" stroke-width="0.99" stroke-dasharray="6 6.2"/>
<polyline points="428.58,279.23 426.32,275.33 424,271.37 421.63,267.34 419.2,263.23 416.73,259.05 414.2,254.8 411.62,250.46 408.99,246.05 406.31,241.54 403.59,236.95" fill="none" stroke="#00b4c8" stroke-width="0.99" stroke-dasharray="6 6.2"/>
<polyline points="403.59,236.95 400.82,232.26 398,227.48 395.14,222.6 392.24,217.61 389.3,212.52 386.31,207.3 383.29,201.97 380.24,196.52 377.14,190.93 374.02,185.2" fill="none" stroke="#00b4c8" stroke-width="0.99" stroke-dasharray="6 6.2"/>
<polyline points="374.02,185.2 370.86,179.33 367.68,173.3 364.46,167.12 361.22,160.77 357.96,154.23 354.67,147.51 351.36,140.59 348.04,133.45 344.69,126.09 341.34,118.48" fill="none" stroke="#00b4c8" stroke-width="0.99" stroke-dasharray="6 6.2"/>
<polyline points="548.81,569.77 549.03,568.66 549.25,567.55 549.48,566.43 549.7,565.31 549.92,564.18 550.15,563.04 550.37,561.9 550.6,560.76 550.82,559.61 551.05,558.45" fill="none" stroke="#00b4c8" stroke-width="0.99" stroke-dasharray="6 6.2"/>
<polyline points="551.05,558.45 551.28,557.29 551.51,556.12 551.74,554.94 551.97,553.76 552.2,552.58 552.43,551.39 552.66,550.19 552.9,548.98 553.13,547.77 553.37,546.55" fill="none" stroke="#00b4c8" stroke-width="0.99" stroke-dasharray="6 6.2"/>
<polyline points="553.37,546.55 553.6,545.33 553.84,544.1 554.08,542.86 554.31,541.62 554.55,540.37 554.79,539.11 555.03,537.85 555.27,536.58 555.52,535.3 555.76,534.02" fill="none" stroke="#00b4c8" stroke-width="0.99" stroke-dasharray="6 6.2"/>
<polyline points="555.76,534.02 556,532.72 556.25,531.42 556.49,530.12 556.74,528.8 556.98,527.48 557.23,526.15 557.48,524.82 557.73,523.47 557.98,522.12 558.23,520.76" fill="none" stroke="#00b4c8" stroke-width="0.99" stroke-dasharray="6 6.2"/>
<polyline points="558.23,520.76 558.48,519.39 558.73,518.02 558.98,516.63 559.24,515.24 559.49,513.84 559.74,512.43 560,511.01 560.25,509.58 560.51,508.15 560.77,506.7" fill="none" stroke="#00b4c8" stroke-width="0.99" stroke-dasharray="6 6.2"/>
<polyline points="560.77,506.7 561.02,505.25 561.28,503.78 561.54,502.31 561.8,500.83 562.06,499.34 562.32,497.84 562.58,496.33 562.84,494.8 563.1,493.27 563.37,491.73" fill="none" stroke="#00b4c8" stroke-width="0.99" stroke-dasharray="6 6.2"/>
<polyline points="563.37,491.73 563.63,490.18 563.89,488.62 564.16,487.05 564.42,485.46 564.68,483.87 564.95,482.27 565.21,480.65 565.48,479.02 565.74,477.38 566.01,475.73" fill="none" stroke="#00b4c8" stroke-width="0.99" stroke-dasharray="6 6.2"/>
<polyline points="566.01,475.73 566.27,474.07 566.54,472.4 566.81,470.71 567.07,469.01 567.34,467.3 567.6,465.57 567.87,463.84 568.13,462.09 568.4,460.32 568.66,458.55" fill="none" stroke="#00b4c8" stroke-width="0.99" stroke-dasharray="6 6.2"/>
<polyline points="568.66,458.55 568.93,456.75 569.19,454.95 569.46,453.13 569.72,451.3 569.98,449.45 570.24,447.59 570.51,445.71 570.77,443.82 571.03,441.91 571.28,439.98" fill="none" stroke="#00b4c8" stroke-width="0.99" stroke-dasharray="6 6.2"/>
<polyline points="571.28,439.98 571.54,438.04 571.8,436.08 572.05,434.11 572.31,432.12 572.56,430.11 572.81,428.09 573.06,426.04 573.3,423.98 573.55,421.9 573.79,419.8" fill="none" stroke="#00b4c8" stroke-width="0.99" stroke-dasharray="6 6.2"/>
<polyline points="573.79,419.8 574.03,417.69 574.26,415.55 574.5,413.39 574.73,411.21 574.96,409.02 575.18,406.8 575.4,404.56 575.62,402.29 575.83,400.01 576.04,397.7" fill="none" stroke="#00b4c8" stroke-width="0.99" stroke-dasharray="6 6.2"/>
<polyline points="576.04,397.7 576.25,395.37 576.45,393.01 576.64,390.64 576.83,388.23 577.01,385.8 577.19,383.35 577.36,380.87 577.52,378.36 577.67,375.83 577.82,373.27" fill="none" stroke="#00b4c8" stroke-width="0.99" stroke-dasharray="6 6.2"/>
<polyline points="577.82,373.27 577.96,370.67 578.09,368.05 578.21,365.4 578.32,362.72 578.41,360.01 578.5,357.27 578.58,354.49 578.64,351.68 578.69,348.83 578.72,345.95" fill="none" stroke="#00b4c8" stroke-width="0.99" stroke-dasharray="6 6.2"/>
<polyline points="578.72,345.95 578.74,343.03 578.74,340.08 578.73,337.09 578.69,334.05 578.64,330.98 578.56,327.87 578.46,324.71 578.34,321.52 578.2,318.27 578.02,314.98" fill="none" stroke="#00b4c8" stroke-width="0.99" stroke-dasharray="6 6.2"/>
<polyline points="578.02,314.98 577.82,311.65 577.59,308.26 577.32,304.82 577.02,301.34 576.69,297.8 576.31,294.2 575.89,290.55 575.43,286.84 574.92,283.07 574.36,279.23" fill="none" stroke="#00b4c8" stroke-width="0.99" stroke-dasharray="6 6.2"/>
<polyline points="574.36,279.23 573.75,275.33 573.08,271.37 572.34,267.34 571.55,263.23 570.68,259.05 569.74,254.8 568.72,250.46 567.61,246.05 566.42,241.54 565.13,236.95" fill="none" stroke="#00b4c8" stroke-width="0.99" stroke-dasharray="6 6.2"/>
<polyline points="565.13,236.95 563.74,232.26 562.24,227.48 560.64,222.6 558.91,217.61 557.06,212.52 555.07,207.3 552.95,201.97 550.69,196.52 548.28,190.93 545.71,185.2" fill="none" stroke="#00b4c8" stroke-width="0.99" stroke-dasharray="6 6.2"/>
<polyline points="545.71,185.2 542.98,179.33 540.09,173.3 537.03,167.12 533.8,160.77 530.41,154.23 526.84,147.51 523.11,140.59 519.2,133.45 515.14,126.09 510.92,118.48" fill="none" stroke="#00b4c8" stroke-width="0.99" stroke-dasharray="6 6.2"/>
<polyline points="607.18,569.77 607.5,568.66 607.82,567.55 608.14,566.43 608.47,565.31 608.79,564.18 609.12,563.04 609.45,561.9 609.78,560.76 610.11,559.61 610.45,558.45" fill="none" stroke="#00b4c8" stroke-width="0.99" stroke-dasharray="6 6.2"/>
<polyline points="610.45,558.45 610.79,557.29 611.13,556.12 611.47,554.94 611.81,553.76 612.15,552.58 612.5,551.39 612.85,550.19 613.2,548.98 613.55,547.77 613.91,546.55" fill="none" stroke="#00b4c8" stroke-width="0.99" stroke-dasharray="6 6.2"/>
<polyline points="613.91,546.55 614.26,545.33 614.62,544.1 614.98,542.86 615.34,541.62 615.71,540.37 616.08,539.11 616.45,537.85 616.82,536.58 617.19,535.3 617.57,534.02" fill="none" stroke="#00b4c8" stroke-width="0.99" stroke-dasharray="6 6.2"/>
<polyline points="617.57,534.02 617.94,532.72 618.32,531.42 618.71,530.12 619.09,528.8 619.48,527.48 619.87,526.15 620.26,524.82 620.65,523.47 621.05,522.12 621.45,520.76" fill="none" stroke="#00b4c8" stroke-width="0.99" stroke-dasharray="6 6.2"/>
<polyline points="621.45,520.76 621.85,519.39 622.25,518.02 622.66,516.63 623.07,515.24 623.48,513.84 623.9,512.43 624.31,511.01 624.73,509.58 625.16,508.15 625.58,506.7" fill="none" stroke="#00b4c8" stroke-width="0.99" stroke-dasharray="6 6.2"/>
<polyline points="625.58,506.7 626.01,505.25 626.44,503.78 626.87,502.31 627.31,500.83 627.75,499.34 628.19,497.84 628.64,496.33 629.08,494.8 629.54,493.27 629.99,491.73" fill="none" stroke="#00b4c8" stroke-width="0.99" stroke-dasharray="6 6.2"/>
<polyline points="629.99,491.73 630.45,490.18 630.91,488.62 631.37,487.05 631.84,485.46 632.31,483.87 632.78,482.27 633.26,480.65 633.74,479.02 634.22,477.38 634.71,475.73" fill="none" stroke="#00b4c8" stroke-width="0.99" stroke-dasharray="6 6.2"/>
<polyline points="634.71,475.73 635.2,474.07 635.7,472.4 636.19,470.71 636.7,469.01 637.2,467.3 637.71,465.57 638.22,463.84 638.74,462.09 639.26,460.32 639.78,458.55" fill="none" stroke="#00b4c8" stroke-width="0.99" stroke-dasharray="6 6.2"/>
<polyline points="639.78,458.55 640.31,456.75 640.84,454.95 641.38,453.13 641.92,451.3 642.46,449.45 643.01,447.59 643.57,445.71 644.12,443.82 644.68,441.91 645.25,439.98" fill="none" stroke="#00b4c8" stroke-width="0.99" stroke-dasharray="6 6.2"/>
<polyline points="645.25,439.98 645.82,438.04 646.4,436.08 646.98,434.11 647.56,432.12 648.15,430.11 648.75,428.09 649.34,426.04 649.95,423.98 650.56,421.9 651.17,419.8" fill="none" stroke="#00b4c8" stroke-width="0.99" stroke-dasharray="6 6.2"/>
<polyline points="651.17,419.8 651.79,417.69 652.41,415.55 653.04,413.39 653.68,411.21 654.32,409.02 654.97,406.8 655.62,404.56 656.28,402.29 656.94,400.01 657.61,397.7" fill="none" stroke="#00b4c8" stroke-width="0.99" stroke-dasharray="6 6.2"/>
<polyline points="657.61,397.7 658.28,395.37 658.96,393.01 659.65,390.64 660.34,388.23 661.04,385.8 661.75,383.35 662.46,380.87 663.18,378.36 663.9,375.83 664.63,373.27" fill="none" stroke="#00b4c8" stroke-width="0.99" stroke-dasharray="6 6.2"/>
<polyline points="114.26,569.77 115.94,567.55 117.63,565.31 119.33,563.04 121.06,560.76 122.8,558.45" fill="none" stroke="#504600" stroke-width="0.99" stroke-dasharray="6 7"/>
<polyline points="122.8,558.45 124.56,556.12 126.33,553.76 128.13,551.39 129.95,548.98 131.78,546.55" fill="none" stroke="#504600" stroke-width="0.99" stroke-dasharray="6 7"/>
<polyline points="131.78,546.55 133.64,544.1 135.51,541.62 137.41,539.11 139.33,536.58 141.27,534.02" fill="none" stroke="#504600" stroke-width="0.99" stroke-dasharray="6 7"/>
<polyline points="141.27,534.02 143.23,531.42 145.22,528.8 147.23,526.15 149.26,523.47 151.32,520.76" fill="none" stroke="#504600" stroke-width="0.99" stroke-dasharray="6 7"/>
<polyline points="151.32,520.76 153.4,518.02 155.51,515.24 157.64,512.43 159.8,509.58 161.99,506.7" fill="none" stroke="#504600" stroke-width="0.99" stroke-dasharray="6 7"/>
<polyline points="161.99,506.7 164.21,503.78 166.45,500.83 168.73,497.84 171.04,494.8 173.38,491.73" fill="none" stroke="#504600" stroke-width="0.99" stroke-dasharray="6 7"/>
<polyline points="173.38,491.73 175.75,488.62 178.15,485.46 180.59,482.27 183.06,479.02 185.57,475.73" fill="none" stroke="#504600" stroke-width="0.99" stroke-dasharray="6 7"/>
<polyline points="185.57,475.73 188.11,472.4 190.7,469.01 193.32,465.57 195.99,462.09 198.69,458.55" fill="none" stroke="#504600" stroke-width="0.99" stroke-dasharray="6 7"/>
<polyline points="198.69,458.55 201.44,454.95 204.24,451.3 207.08,447.59 209.96,443.82 212.9,439.98" fill="none" stroke="#504600" stroke-width="0.99" stroke-dasharray="6 7"/>
<polyline points="212.9,439.98 215.89,436.08 218.93,432.12 222.02,428.09 225.17,423.98 228.38,419.8" fill="none" stroke="#504600" stroke-width="0.99" stroke-dasharray="6 7"/>
<polyline points="228.38,419.8 231.65,415.55 234.98,411.21 238.38,406.8 241.84,402.29 245.38,397.7" fill="none" stroke="#504600" stroke-width="0.99" stroke-dasharray="6 7"/>
<polyline points="245.38,397.7 248.99,393.01 252.67,388.23 256.44,383.35 260.28,378.36 264.22,373.27" fill="none" stroke="#504600" stroke-width="0.99" stroke-dasharray="6 7"/>
<polyline points="264.22,373.27 268.25,368.05 272.37,362.72 276.59,357.27 280.91,351.68 285.35,345.95" fill="none" stroke="#504600" stroke-width="0.99" stroke-dasharray="6 7"/>
<polyline points="285.35,345.95 289.9,340.08 294.57,334.05 299.37,327.87 304.3,321.52 309.38,314.98" fill="none" stroke="#504600" stroke-width="0.99" stroke-dasharray="6 7"/>
<polyline points="309.38,314.98 314.6,308.26 319.99,301.34 325.55,294.2 331.29,286.84 337.22,279.23" fill="none" stroke="#504600" stroke-width="0.99" stroke-dasharray="6 7"/>
<polyline points="337.22,279.23 343.36,271.37 349.72,263.23 356.31,254.8 363.16,246.05 370.29,236.95" fill="none" stroke="#504600" stroke-width="0.99" stroke-dasharray="6 7"/>
<polyline points="370.29,236.95 377.71,227.48 385.46,217.61 393.56,207.3 402.05,196.52 410.96,185.2" fill="none" stroke="#504600" stroke-width="0.99" stroke-dasharray="6 7"/>
<polyline points="410.96,185.2 420.34,173.3 430.24,160.77 440.72,147.51 451.85,133.45 463.72,118.48" fill="none" stroke="#504600" stroke-width="0.99" stroke-dasharray="6 7"/>
<polyline points="155.18,569.77 156.81,567.55 158.47,565.31 160.14,563.04 161.82,560.76 163.52,558.45" fill="none" stroke="#504600" stroke-width="0.99" stroke-dasharray="6 7"/>
<polyline points="163.52,558.45 165.24,556.12 166.98,553.76 168.74,551.39 170.52,548.98 172.31,546.55" fill="none" stroke="#504600" stroke-width="0.99" stroke-dasharray="6 7"/>
<polyline points="172.31,546.55 174.13,544.1 175.96,541.62 177.82,539.11 179.69,536.58 181.59,534.02" fill="none" stroke="#504600" stroke-width="0.99" stroke-dasharray="6 7"/>
<polyline points="181.59,534.02 183.51,531.42 185.45,528.8 187.42,526.15 189.41,523.47 191.42,520.76" fill="none" stroke="#504600" stroke-width="0.99" stroke-dasharray="6 7"/>
<polyline points="191.42,520.76 193.46,518.02 195.52,515.24 197.61,512.43 199.72,509.58 201.86,506.7" fill="none" stroke="#504600" stroke-width="0.99" stroke-dasharray="6 7"/>
<polyline points="201.86,506.7 204.03,503.78 206.23,500.83 208.46,497.84 210.72,494.8 213.01,491.73" fill="none" stroke="#504600" stroke-width="0.99" stroke-dasharray="6 7"/>
<polyline points="213.01,491.73 215.33,488.62 217.68,485.46 220.07,482.27 222.49,479.02 224.94,475.73" fill="none" stroke="#504600" stroke-width="0.99" stroke-dasharray="6 7"/>
<polyline points="224.94,475.73 227.44,472.4 229.97,469.01 232.54,465.57 235.15,462.09 237.8,458.55" fill="none" stroke="#504600" stroke-width="0.99" stroke-dasharray="6 7"/>
<polyline points="237.8,458.55 240.49,454.95 243.22,451.3 246.01,447.59 248.83,443.82 251.71,439.98" fill="none" stroke="#504600" stroke-width="0.99" stroke-dasharray="6 7"/>
<polyline points="251.71,439.98 254.64,436.08 257.62,432.12 260.65,428.09 263.73,423.98 266.88,419.8" fill="none" stroke="#504600" stroke-width="0.99" stroke-dasharray="6 7"/>
<polyline points="266.88,419.8 270.08,415.55 273.35,411.21 276.68,406.8 280.07,402.29 283.54,397.7" fill="none" stroke="#504600" stroke-width="0.99" stroke-dasharray="6 7"/>
<polyline points="283.54,397.7 287.08,393.01 290.69,388.23 294.38,383.35 298.15,378.36 302.01,373.27" fill="none" stroke="#504600" stroke-width="0.99" stroke-dasharray="6 7"/>
<polyline points="302.01,373.27 305.96,368.05 310,362.72 314.14,357.27 318.38,351.68 322.73,345.95" fill="none" stroke="#504600" stroke-width="0.99" stroke-dasharray="6 7"/>
<polyline points="322.73,345.95 327.2,340.08 331.78,334.05 336.49,327.87 341.33,321.52 346.31,314.98" fill="none" stroke="#504600" stroke-width="0.99" stroke-dasharray="6 7"/>
<polyline points="346.31,314.98 351.44,308.26 356.73,301.34 362.18,294.2 367.82,286.84 373.64,279.23" fill="none" stroke="#504600" stroke-width="0.99" stroke-dasharray="6 7"/>
<polyline points="373.64,279.23 379.67,271.37 385.91,263.23 392.39,254.8 399.12,246.05 406.12,236.95" fill="none" stroke="#504600" stroke-width="0.99" stroke-dasharray="6 7"/>
<polyline points="406.12,236.95 413.41,227.48 421.03,217.61 428.99,207.3 437.33,196.52 446.09,185.2" fill="none" stroke="#504600" stroke-width="0.99" stroke-dasharray="6 7"/>
<polyline points="446.09,185.2 455.31,173.3 465.04,160.77 475.35,147.51 486.29,133.45 497.96,118.48" fill="none" stroke="#504600" stroke-width="0.99" stroke-dasharray="6 7"/>
<polyline points="225.97,569.77 227.54,567.55 229.12,565.31 230.72,563.04 232.34,560.76 233.97,558.45" fill="none" stroke="#504600" stroke-width="0.99" stroke-dasharray="6 7"/>
<polyline points="233.97,558.45 235.62,556.12 237.29,553.76 238.97,551.39 240.68,548.98 242.4,546.55" fill="none" stroke="#504600" stroke-width="0.99" stroke-dasharray="6 7"/>
<polyline points="242.4,546.55 244.14,544.1 245.9,541.62 247.68,539.11 249.48,536.58 251.3,534.02" fill="none" stroke="#504600" stroke-width="0.99" stroke-dasharray="6 7"/>
<polyline points="251.3,534.02 253.15,531.42 255.01,528.8 256.9,526.15 258.81,523.47 260.74,520.76" fill="none" stroke="#504600" stroke-width="0.99" stroke-dasharray="6 7"/>
<polyline points="260.74,520.76 262.7,518.02 264.68,515.24 266.68,512.43 268.71,509.58 270.77,506.7" fill="none" stroke="#504600" stroke-width="0.99" stroke-dasharray="6 7"/>
<polyline points="270.77,506.7 272.85,503.78 274.97,500.83 277.11,497.84 279.28,494.8 281.48,491.73" fill="none" stroke="#504600" stroke-width="0.99" stroke-dasharray="6 7"/>
<polyline points="281.48,491.73 283.71,488.62 285.97,485.46 288.26,482.27 290.59,479.02 292.95,475.73" fill="none" stroke="#504600" stroke-width="0.99" stroke-dasharray="6 7"/>
<polyline points="292.95,475.73 295.35,472.4 297.78,469.01 300.25,465.57 302.76,462.09 305.31,458.55" fill="none" stroke="#504600" stroke-width="0.99" stroke-dasharray="6 7"/>
<polyline points="305.31,458.55 307.9,454.95 310.54,451.3 313.21,447.59 315.93,443.82 318.7,439.98" fill="none" stroke="#504600" stroke-width="0.99" stroke-dasharray="6 7"/>
<polyline points="318.7,439.98 321.52,436.08 324.39,432.12 327.31,428.09 330.28,423.98 333.31,419.8" fill="none" stroke="#504600" stroke-width="0.99" stroke-dasharray="6 7"/>
<polyline points="333.31,419.8 336.39,415.55 339.54,411.21 342.75,406.8 346.02,402.29 349.36,397.7" fill="none" stroke="#504600" stroke-width="0.99" stroke-dasharray="6 7"/>
<polyline points="349.36,397.7 352.77,393.01 356.25,388.23 359.81,383.35 363.45,378.36 367.17,373.27" fill="none" stroke="#504600" stroke-width="0.99" stroke-dasharray="6 7"/>
<polyline points="367.17,373.27 370.97,368.05 374.87,362.72 378.87,357.27 382.96,351.68 387.16,345.95" fill="none" stroke="#504600" stroke-width="0.99" stroke-dasharray="6 7"/>
<polyline points="387.16,345.95 391.47,340.08 395.89,334.05 400.44,327.87 405.11,321.52 409.92,314.98" fill="none" stroke="#504600" stroke-width="0.99" stroke-dasharray="6 7"/>
<polyline points="409.92,314.98 414.88,308.26 419.99,301.34 425.26,294.2 430.7,286.84 436.33,279.23" fill="none" stroke="#504600" stroke-width="0.99" stroke-dasharray="6 7"/>
<polyline points="436.33,279.23 442.16,271.37 448.2,263.23 454.47,254.8 460.98,246.05 467.75,236.95" fill="none" stroke="#504600" stroke-width="0.99" stroke-dasharray="6 7"/>
<polyline points="467.75,236.95 474.81,227.48 482.18,217.61 489.89,207.3 497.97,196.52 506.46,185.2" fill="none" stroke="#504600" stroke-width="0.99" stroke-dasharray="6 7"/>
<polyline points="506.46,185.2 515.39,173.3 524.83,160.77 534.82,147.51 545.43,133.45 556.76,118.48" fill="none" stroke="#504600" stroke-width="0.99" stroke-dasharray="6 7"/>
<polyline points="261.66,569.77 263.19,567.55 264.74,565.31 266.3,563.04 267.88,560.76 269.48,558.45" fill="none" stroke="#504600" stroke-width="0.99" stroke-dasharray="6 7"/>
<polyline points="269.48,558.45 271.09,556.12 272.72,553.76 274.37,551.39 276.03,548.98 277.72,546.55" fill="none" stroke="#504600" stroke-width="0.99" stroke-dasharray="6 7"/>
<polyline points="277.72,546.55 279.42,544.1 281.14,541.62 282.88,539.11 284.64,536.58 286.42,534.02" fill="none" stroke="#504600" stroke-width="0.99" stroke-dasharray="6 7"/>
<polyline points="286.42,534.02 288.23,531.42 290.05,528.8 291.89,526.15 293.76,523.47 295.65,520.76" fill="none" stroke="#504600" stroke-width="0.99" stroke-dasharray="6 7"/>
<polyline points="295.65,520.76 297.57,518.02 299.5,515.24 301.47,512.43 303.45,509.58 305.47,506.7" fill="none" stroke="#504600" stroke-width="0.99" stroke-dasharray="6 7"/>
<polyline points="305.47,506.7 307.51,503.78 309.57,500.83 311.67,497.84 313.79,494.8 315.94,491.73" fill="none" stroke="#504600" stroke-width="0.99" stroke-dasharray="6 7"/>
<polyline points="315.94,491.73 318.13,488.62 320.34,485.46 322.59,482.27 324.86,479.02 327.18,475.73" fill="none" stroke="#504600" stroke-width="0.99" stroke-dasharray="6 7"/>
<polyline points="327.18,475.73 329.52,472.4 331.91,469.01 334.33,465.57 336.78,462.09 339.28,458.55" fill="none" stroke="#504600" stroke-width="0.99" stroke-dasharray="6 7"/>
<polyline points="339.28,458.55 341.82,454.95 344.4,451.3 347.02,447.59 349.68,443.82 352.4,439.98" fill="none" stroke="#504600" stroke-width="0.99" stroke-dasharray="6 7"/>
<polyline points="352.4,439.98 355.16,436.08 357.96,432.12 360.82,428.09 363.74,423.98 366.7,419.8" fill="none" stroke="#504600" stroke-width="0.99" stroke-dasharray="6 7"/>
<polyline points="366.7,419.8 369.73,415.55 372.81,411.21 375.96,406.8 379.16,402.29 382.44,397.7" fill="none" stroke="#504600" stroke-width="0.99" stroke-dasharray="6 7"/>
<polyline points="382.44,397.7 385.78,393.01 389.19,388.23 392.68,383.35 396.25,378.36 399.9,373.27" fill="none" stroke="#504600" stroke-width="0.99" stroke-dasharray="6 7"/>
<polyline points="399.9,373.27 403.64,368.05 407.46,362.72 411.38,357.27 415.39,351.68 419.51,345.95" fill="none" stroke="#504600" stroke-width="0.99" stroke-dasharray="6 7"/>
<polyline points="419.51,345.95 423.74,340.08 428.08,334.05 432.54,327.87 437.13,321.52 441.85,314.98" fill="none" stroke="#504600" stroke-width="0.99" stroke-dasharray="6 7"/>
<polyline points="441.85,314.98 446.72,308.26 451.73,301.34 456.91,294.2 462.26,286.84 467.78,279.23" fill="none" stroke="#504600" stroke-width="0.99" stroke-dasharray="6 7"/>
<polyline points="467.78,279.23 473.51,271.37 479.44,263.23 485.59,254.8 491.99,246.05 498.65,236.95" fill="none" stroke="#504600" stroke-width="0.99" stroke-dasharray="6 7"/>
<polyline points="498.65,236.95 505.59,227.48 512.83,217.61 520.41,207.3 528.35,196.52 536.7,185.2" fill="none" stroke="#504600" stroke-width="0.99" stroke-dasharray="6 7"/>
<polyline points="536.7,185.2 545.48,173.3 554.76,160.77 564.59,147.51 575.04,133.45 586.18,118.48" fill="none" stroke="#504600" stroke-width="0.99" stroke-dasharray="6 7"/>
<polyline points="313.21,569.77 314.69,567.55 316.18,565.31 317.69,563.04 319.22,560.76 320.76,558.45" fill="none" stroke="#504600" stroke-width="0.99" stroke-dasharray="6 7"/>
<polyline points="320.76,558.45 322.32,556.12 323.89,553.76 325.48,551.39 327.09,548.98 328.72,546.55" fill="none" stroke="#504600" stroke-width="0.99" stroke-dasharray="6 7"/>
<polyline points="328.72,546.55 330.36,544.1 332.03,541.62 333.71,539.11 335.41,536.58 337.13,534.02" fill="none" stroke="#504600" stroke-width="0.99" stroke-dasharray="6 7"/>
<polyline points="337.13,534.02 338.87,531.42 340.64,528.8 342.42,526.15 344.23,523.47 346.05,520.76" fill="none" stroke="#504600" stroke-width="0.99" stroke-dasharray="6 7"/>
<polyline points="346.05,520.76 347.9,518.02 349.78,515.24 351.67,512.43 353.6,509.58 355.54,506.7" fill="none" stroke="#504600" stroke-width="0.99" stroke-dasharray="6 7"/>
<polyline points="355.54,506.7 357.52,503.78 359.52,500.83 361.54,497.84 363.6,494.8 365.68,491.73" fill="none" stroke="#504600" stroke-width="0.99" stroke-dasharray="6 7"/>
<polyline points="365.68,491.73 367.79,488.62 369.93,485.46 372.11,482.27 374.31,479.02 376.55,475.73" fill="none" stroke="#504600" stroke-width="0.99" stroke-dasharray="6 7"/>
<polyline points="376.55,475.73 378.82,472.4 381.13,469.01 383.48,465.57 385.86,462.09 388.27,458.55" fill="none" stroke="#504600" stroke-width="0.99" stroke-dasharray="6 7"/>
<polyline points="388.27,458.55 390.73,454.95 393.23,451.3 395.77,447.59 398.35,443.82 400.98,439.98" fill="none" stroke="#504600" stroke-width="0.99" stroke-dasharray="6 7"/>
<polyline points="400.98,439.98 403.66,436.08 406.38,432.12 409.15,428.09 411.97,423.98 414.85,419.8" fill="none" stroke="#504600" stroke-width="0.99" stroke-dasharray="6 7"/>
<polyline points="414.85,419.8 417.78,415.55 420.77,411.21 423.82,406.8 426.94,402.29 430.11,397.7" fill="none" stroke="#504600" stroke-width="0.99" stroke-dasharray="6 7"/>
<polyline points="430.11,397.7 433.36,393.01 436.67,388.23 440.06,383.35 443.52,378.36 447.06,373.27" fill="none" stroke="#504600" stroke-width="0.99" stroke-dasharray="6 7"/>
<polyline points="447.06,373.27 450.69,368.05 454.4,362.72 458.2,357.27 462.1,351.68 466.1,345.95" fill="none" stroke="#504600" stroke-width="0.99" stroke-dasharray="6 7"/>
<polyline points="466.1,345.95 470.21,340.08 474.43,334.05 478.76,327.87 483.22,321.52 487.82,314.98" fill="none" stroke="#504600" stroke-width="0.99" stroke-dasharray="6 7"/>
<polyline points="487.82,314.98 492.55,308.26 497.42,301.34 502.46,294.2 507.66,286.84 513.04,279.23" fill="none" stroke="#504600" stroke-width="0.99" stroke-dasharray="6 7"/>
<polyline points="513.04,279.23 518.61,271.37 524.38,263.23 530.37,254.8 536.6,246.05 543.08,236.95" fill="none" stroke="#504600" stroke-width="0.99" stroke-dasharray="6 7"/>
<polyline points="543.08,236.95 549.84,227.48 556.9,217.61 564.28,207.3 572.02,196.52 580.16,185.2" fill="none" stroke="#504600" stroke-width="0.99" stroke-dasharray="6 7"/>
<polyline points="580.16,185.2 588.72,173.3 597.78,160.77 607.36,147.51 617.56,133.45 628.43,118.48" fill="none" stroke="#504600" stroke-width="0.99" stroke-dasharray="6 7"/>
<polyline points="345.16,569.77 346.61,567.55 348.07,565.31 349.54,563.04 351.03,560.76 352.54,558.45" fill="none" stroke="#504600" stroke-width="0.99" stroke-dasharray="6 7"/>
<polyline points="352.54,558.45 354.06,556.12 355.6,553.76 357.16,551.39 358.73,548.98 360.32,546.55" fill="none" stroke="#504600" stroke-width="0.99" stroke-dasharray="6 7"/>
<polyline points="360.32,546.55 361.93,544.1 363.55,541.62 365.2,539.11 366.86,536.58 368.55,534.02" fill="none" stroke="#504600" stroke-width="0.99" stroke-dasharray="6 7"/>
<polyline points="368.55,534.02 370.25,531.42 371.97,528.8 373.72,526.15 375.48,523.47 377.27,520.76" fill="none" stroke="#504600" stroke-width="0.99" stroke-dasharray="6 7"/>
<polyline points="377.27,520.76 379.08,518.02 380.91,515.24 382.77,512.43 384.65,509.58 386.56,506.7" fill="none" stroke="#504600" stroke-width="0.99" stroke-dasharray="6 7"/>
<polyline points="386.56,506.7 388.49,503.78 390.44,500.83 392.43,497.84 394.44,494.8 396.47,491.73" fill="none" stroke="#504600" stroke-width="0.99" stroke-dasharray="6 7"/>
<polyline points="396.47,491.73 398.54,488.62 400.64,485.46 402.77,482.27 404.93,479.02 407.12,475.73" fill="none" stroke="#504600" stroke-width="0.99" stroke-dasharray="6 7"/>
<polyline points="407.12,475.73 409.34,472.4 411.6,469.01 413.9,465.57 416.23,462.09 418.59,458.55" fill="none" stroke="#504600" stroke-width="0.99" stroke-dasharray="6 7"/>
<polyline points="418.59,458.55 421,454.95 423.45,451.3 425.94,447.59 428.47,443.82 431.04,439.98" fill="none" stroke="#504600" stroke-width="0.99" stroke-dasharray="6 7"/>
<polyline points="431.04,439.98 433.66,436.08 436.33,432.12 439.05,428.09 441.81,423.98 444.63,419.8" fill="none" stroke="#504600" stroke-width="0.99" stroke-dasharray="6 7"/>
<polyline points="444.63,419.8 447.51,415.55 450.44,411.21 453.43,406.8 456.48,402.29 459.59,397.7" fill="none" stroke="#504600" stroke-width="0.99" stroke-dasharray="6 7"/>
<polyline points="459.59,397.7 462.77,393.01 466.02,388.23 469.34,383.35 472.74,378.36 476.21,373.27" fill="none" stroke="#504600" stroke-width="0.99" stroke-dasharray="6 7"/>
<polyline points="476.21,373.27 479.77,368.05 483.41,362.72 487.14,357.27 490.97,351.68 494.9,345.95" fill="none" stroke="#504600" stroke-width="0.99" stroke-dasharray="6 7"/>
<polyline points="494.9,345.95 498.93,340.08 503.07,334.05 507.32,327.87 511.7,321.52 516.21,314.98" fill="none" stroke="#504600" stroke-width="0.99" stroke-dasharray="6 7"/>
<polyline points="516.21,314.98 520.85,308.26 525.64,301.34 530.59,294.2 535.7,286.84 540.98,279.23" fill="none" stroke="#504600" stroke-width="0.99" stroke-dasharray="6 7"/>
<polyline points="540.98,279.23 546.45,271.37 552.12,263.23 558.01,254.8 564.13,246.05 570.5,236.95" fill="none" stroke="#504600" stroke-width="0.99" stroke-dasharray="6 7"/>
<polyline points="570.5,236.95 577.15,227.48 584.09,217.61 591.35,207.3 598.96,196.52 606.96,185.2" fill="none" stroke="#504600" stroke-width="0.99" stroke-dasharray="6 7"/>
<polyline points="606.96,185.2 615.39,173.3 624.3,160.77 633.73,147.51 643.77,133.45 654.47,118.48" fill="none" stroke="#504600" stroke-width="0.99" stroke-dasharray="6 7"/>
<polyline points="368.68,569.77 370.1,567.55 371.54,565.31 372.99,563.04 374.45,560.76 375.93,558.45" fill="none" stroke="#504600" stroke-width="0.99" stroke-dasharray="6 7"/>
<polyline points="375.93,558.45 377.43,556.12 378.94,553.76 380.47,551.39 382.02,548.98 383.58,546.55" fill="none" stroke="#504600" stroke-width="0.99" stroke-dasharray="6 7"/>
<polyline points="383.58,546.55 385.16,544.1 386.76,541.62 388.38,539.11 390.01,536.58 391.67,534.02" fill="none" stroke="#504600" stroke-width="0.99" stroke-dasharray="6 7"/>
<polyline points="391.67,534.02 393.34,531.42 395.03,528.8 396.75,526.15 398.48,523.47 400.24,520.76" fill="none" stroke="#504600" stroke-width="0.99" stroke-dasharray="6 7"/>
<polyline points="400.24,520.76 402.02,518.02 403.82,515.24 405.65,512.43 407.5,509.58 409.37,506.7" fill="none" stroke="#504600" stroke-width="0.99" stroke-dasharray="6 7"/>
<polyline points="409.37,506.7 411.27,503.78 413.2,500.83 415.15,497.84 417.12,494.8 419.13,491.73" fill="none" stroke="#504600" stroke-width="0.99" stroke-dasharray="6 7"/>
<polyline points="419.13,491.73 421.16,488.62 423.23,485.46 425.32,482.27 427.44,479.02 429.6,475.73" fill="none" stroke="#504600" stroke-width="0.99" stroke-dasharray="6 7"/>
<polyline points="429.6,475.73 431.79,472.4 434.01,469.01 436.27,465.57 438.56,462.09 440.89,458.55" fill="none" stroke="#504600" stroke-width="0.99" stroke-dasharray="6 7"/>
<polyline points="440.89,458.55 443.26,454.95 445.67,451.3 448.12,447.59 450.61,443.82 453.15,439.98" fill="none" stroke="#504600" stroke-width="0.99" stroke-dasharray="6 7"/>
<polyline points="453.15,439.98 455.73,436.08 458.35,432.12 461.03,428.09 463.75,423.98 466.53,419.8" fill="none" stroke="#504600" stroke-width="0.99" stroke-dasharray="6 7"/>
<polyline points="466.53,419.8 469.36,415.55 472.25,411.21 475.19,406.8 478.2,402.29 481.26,397.7" fill="none" stroke="#504600" stroke-width="0.99" stroke-dasharray="6 7"/>
<polyline points="481.26,397.7 484.4,393.01 487.6,388.23 490.87,383.35 494.21,378.36 497.64,373.27" fill="none" stroke="#504600" stroke-width="0.99" stroke-dasharray="6 7"/>
<polyline points="497.64,373.27 501.14,368.05 504.73,362.72 508.41,357.27 512.18,351.68 516.05,345.95" fill="none" stroke="#504600" stroke-width="0.99" stroke-dasharray="6 7"/>
<polyline points="516.05,345.95 520.03,340.08 524.11,334.05 528.3,327.87 532.62,321.52 537.07,314.98" fill="none" stroke="#504600" stroke-width="0.99" stroke-dasharray="6 7"/>
<polyline points="537.07,314.98 541.65,308.26 546.37,301.34 551.25,294.2 556.29,286.84 561.5,279.23" fill="none" stroke="#504600" stroke-width="0.99" stroke-dasharray="6 7"/>
<polyline points="561.5,279.23 566.9,271.37 572.49,263.23 578.3,254.8 584.34,246.05 590.63,236.95" fill="none" stroke="#504600" stroke-width="0.99" stroke-dasharray="6 7"/>
<polyline points="590.63,236.95 597.19,227.48 604.04,217.61 611.21,207.3 618.73,196.52 626.63,185.2" fill="none" stroke="#504600" stroke-width="0.99" stroke-dasharray="6 7"/>
<polyline points="626.63,185.2 634.96,173.3 643.75,160.77 653.08,147.51 662.99,133.45 673.57,118.48" fill="none" stroke="#504600" stroke-width="0.99" stroke-dasharray="6 7"/>
<polyline points="387.43,569.77 388.83,567.55 390.25,565.31 391.68,563.04 393.12,560.76 394.58,558.45" fill="none" stroke="#504600" stroke-width="0.99" stroke-dasharray="6 7"/>
<polyline points="394.58,558.45 396.05,556.12 397.54,553.76 399.05,551.39 400.58,548.98 402.12,546.55" fill="none" stroke="#504600" stroke-width="0.99" stroke-dasharray="6 7"/>
<polyline points="402.12,546.55 403.67,544.1 405.25,541.62 406.84,539.11 408.46,536.58 410.09,534.02" fill="none" stroke="#504600" stroke-width="0.99" stroke-dasharray="6 7"/>
<polyline points="410.09,534.02 411.74,531.42 413.41,528.8 415.1,526.15 416.81,523.47 418.55,520.76" fill="none" stroke="#504600" stroke-width="0.99" stroke-dasharray="6 7"/>
<polyline points="418.55,520.76 420.3,518.02 422.08,515.24 423.88,512.43 425.7,509.58 427.55,506.7" fill="none" stroke="#504600" stroke-width="0.99" stroke-dasharray="6 7"/>
<polyline points="427.55,506.7 429.42,503.78 431.32,500.83 433.25,497.84 435.2,494.8 437.18,491.73" fill="none" stroke="#504600" stroke-width="0.99" stroke-dasharray="6 7"/>
<polyline points="437.18,491.73 439.18,488.62 441.22,485.46 443.28,482.27 445.38,479.02 447.51,475.73" fill="none" stroke="#504600" stroke-width="0.99" stroke-dasharray="6 7"/>
<polyline points="447.51,475.73 449.67,472.4 451.86,469.01 454.09,465.57 456.35,462.09 458.65,458.55" fill="none" stroke="#504600" stroke-width="0.99" stroke-dasharray="6 7"/>
<polyline points="458.65,458.55 460.99,454.95 463.37,451.3 465.79,447.59 468.25,443.82 470.75,439.98" fill="none" stroke="#504600" stroke-width="0.99" stroke-dasharray="6 7"/>
<polyline points="470.75,439.98 473.3,436.08 475.89,432.12 478.53,428.09 481.22,423.98 483.96,419.8" fill="none" stroke="#504600" stroke-width="0.99" stroke-dasharray="6 7"/>
<polyline points="483.96,419.8 486.76,415.55 489.61,411.21 492.52,406.8 495.49,402.29 498.52,397.7" fill="none" stroke="#504600" stroke-width="0.99" stroke-dasharray="6 7"/>
<polyline points="498.52,397.7 501.61,393.01 504.77,388.23 508,383.35 511.31,378.36 514.69,373.27" fill="none" stroke="#504600" stroke-width="0.99" stroke-dasharray="6 7"/>
<polyline points="514.69,373.27 518.16,368.05 521.7,362.72 525.34,357.27 529.07,351.68 532.89,345.95" fill="none" stroke="#504600" stroke-width="0.99" stroke-dasharray="6 7"/>
<polyline points="532.89,345.95 536.82,340.08 540.85,334.05 545,327.87 549.27,321.52 553.66,314.98" fill="none" stroke="#504600" stroke-width="0.99" stroke-dasharray="6 7"/>
<polyline points="553.66,314.98 558.19,308.26 562.86,301.34 567.68,294.2 572.67,286.84 577.82,279.23" fill="none" stroke="#504600" stroke-width="0.99" stroke-dasharray="6 7"/>
<polyline points="577.82,279.23 583.16,271.37 588.7,263.23 594.45,254.8 600.42,246.05 606.64,236.95" fill="none" stroke="#504600" stroke-width="0.99" stroke-dasharray="6 7"/>
<polyline points="606.64,236.95 613.13,227.48 619.91,217.61 627.01,207.3 634.45,196.52 642.27,185.2" fill="none" stroke="#504600" stroke-width="0.99" stroke-dasharray="6 7"/>
<polyline points="642.27,185.2 650.51,173.3 659.22,160.77 668.45,147.51 678.27,133.45 688.75,118.48" fill="none" stroke="#504600" stroke-width="0.99" stroke-dasharray="6 7"/>
<polyline points="422.66,569.77 424.02,567.55 425.39,565.31 426.78,563.04 428.19,560.76 429.61,558.45" fill="none" stroke="#504600" stroke-width="0.99" stroke-dasharray="6 7"/>
<polyline points="429.61,558.45 431.04,556.12 432.49,553.76 433.95,551.39 435.44,548.98 436.93,546.55" fill="none" stroke="#504600" stroke-width="0.99" stroke-dasharray="6 7"/>
<polyline points="436.93,546.55 438.45,544.1 439.98,541.62 441.53,539.11 443.1,536.58 444.69,534.02" fill="none" stroke="#504600" stroke-width="0.99" stroke-dasharray="6 7"/>
<polyline points="444.69,534.02 446.3,531.42 447.92,528.8 449.57,526.15 451.23,523.47 452.92,520.76" fill="none" stroke="#504600" stroke-width="0.99" stroke-dasharray="6 7"/>
<polyline points="452.92,520.76 454.63,518.02 456.36,515.24 458.11,512.43 459.89,509.58 461.69,506.7" fill="none" stroke="#504600" stroke-width="0.99" stroke-dasharray="6 7"/>
<polyline points="461.69,506.7 463.51,503.78 465.36,500.83 467.23,497.84 469.13,494.8 471.06,491.73" fill="none" stroke="#504600" stroke-width="0.99" stroke-dasharray="6 7"/>
<polyline points="471.06,491.73 473.01,488.62 475,485.46 477.01,482.27 479.05,479.02 481.13,475.73" fill="none" stroke="#504600" stroke-width="0.99" stroke-dasharray="6 7"/>
<polyline points="481.13,475.73 483.23,472.4 485.37,469.01 487.54,465.57 489.75,462.09 491.99,458.55" fill="none" stroke="#504600" stroke-width="0.99" stroke-dasharray="6 7"/>
<polyline points="491.99,458.55 494.27,454.95 496.59,451.3 498.95,447.59 501.34,443.82 503.79,439.98" fill="none" stroke="#504600" stroke-width="0.99" stroke-dasharray="6 7"/>
<polyline points="503.79,439.98 506.27,436.08 508.8,432.12 511.38,428.09 514,423.98 516.68,419.8" fill="none" stroke="#504600" stroke-width="0.99" stroke-dasharray="6 7"/>
<polyline points="516.68,419.8 519.41,415.55 522.19,411.21 525.03,406.8 527.92,402.29 530.88,397.7" fill="none" stroke="#504600" stroke-width="0.99" stroke-dasharray="6 7"/>
<polyline points="530.88,397.7 533.9,393.01 536.99,388.23 540.15,383.35 543.38,378.36 546.68,373.27" fill="none" stroke="#504600" stroke-width="0.99" stroke-dasharray="6 7"/>
<polyline points="546.68,373.27 550.06,368.05 553.53,362.72 557.08,357.27 560.72,351.68 564.46,345.95" fill="none" stroke="#504600" stroke-width="0.99" stroke-dasharray="6 7"/>
<polyline points="564.46,345.95 568.3,340.08 572.25,334.05 576.3,327.87 580.48,321.52 584.77,314.98" fill="none" stroke="#504600" stroke-width="0.99" stroke-dasharray="6 7"/>
<polyline points="584.77,314.98 589.2,308.26 593.77,301.34 598.49,294.2 603.37,286.84 608.42,279.23" fill="none" stroke="#504600" stroke-width="0.99" stroke-dasharray="6 7"/>
<polyline points="608.42,279.23 613.64,271.37 619.06,263.23 624.69,254.8 630.54,246.05 636.64,236.95" fill="none" stroke="#504600" stroke-width="0.99" stroke-dasharray="6 7"/>
<polyline points="636.64,236.95 643,227.48 649.64,217.61 656.59,207.3 663.89,196.52 671.56,185.2" fill="none" stroke="#504600" stroke-width="0.99" stroke-dasharray="6 7"/>
<polyline points="448.58,569.77 449.91,567.55 451.25,565.31 452.61,563.04 453.98,560.76 455.37,558.45" fill="none" stroke="#504600" stroke-width="0.99" stroke-dasharray="6 7"/>
<polyline points="455.37,558.45 456.78,556.12 458.19,553.76 459.63,551.39 461.08,548.98 462.54,546.55" fill="none" stroke="#504600" stroke-width="0.99" stroke-dasharray="6 7"/>
<polyline points="462.54,546.55 464.03,544.1 465.53,541.62 467.05,539.11 468.58,536.58 470.14,534.02" fill="none" stroke="#504600" stroke-width="0.99" stroke-dasharray="6 7"/>
<polyline points="470.14,534.02 471.71,531.42 473.3,528.8 474.91,526.15 476.54,523.47 478.2,520.76" fill="none" stroke="#504600" stroke-width="0.99" stroke-dasharray="6 7"/>
<polyline points="478.2,520.76 479.87,518.02 481.56,515.24 483.28,512.43 485.02,509.58 486.78,506.7" fill="none" stroke="#504600" stroke-width="0.99" stroke-dasharray="6 7"/>
<polyline points="486.78,506.7 488.57,503.78 490.38,500.83 492.22,497.84 494.08,494.8 495.97,491.73" fill="none" stroke="#504600" stroke-width="0.99" stroke-dasharray="6 7"/>
<polyline points="495.97,491.73 497.88,488.62 499.83,485.46 501.8,482.27 503.8,479.02 505.84,475.73" fill="none" stroke="#504600" stroke-width="0.99" stroke-dasharray="6 7"/>
<polyline points="505.84,475.73 507.9,472.4 510,469.01 512.13,465.57 514.29,462.09 516.49,458.55" fill="none" stroke="#504600" stroke-width="0.99" stroke-dasharray="6 7"/>
<polyline points="516.49,458.55 518.73,454.95 521,451.3 523.31,447.59 525.66,443.82 528.06,439.98" fill="none" stroke="#504600" stroke-width="0.99" stroke-dasharray="6 7"/>
<polyline points="528.06,439.98 530.5,436.08 532.98,432.12 535.51,428.09 538.08,423.98 540.71,419.8" fill="none" stroke="#504600" stroke-width="0.99" stroke-dasharray="6 7"/>
<polyline points="540.71,419.8 543.39,415.55 546.12,411.21 548.9,406.8 551.75,402.29 554.65,397.7" fill="none" stroke="#504600" stroke-width="0.99" stroke-dasharray="6 7"/>
<polyline points="554.65,397.7 557.62,393.01 560.65,388.23 563.75,383.35 566.92,378.36 570.17,373.27" fill="none" stroke="#504600" stroke-width="0.99" stroke-dasharray="6 7"/>
<polyline points="570.17,373.27 573.49,368.05 576.9,362.72 580.39,357.27 583.97,351.68 587.64,345.95" fill="none" stroke="#504600" stroke-width="0.99" stroke-dasharray="6 7"/>
<polyline points="587.64,345.95 591.41,340.08 595.29,334.05 599.28,327.87 603.38,321.52 607.61,314.98" fill="none" stroke="#504600" stroke-width="0.99" stroke-dasharray="6 7"/>
<polyline points="607.61,314.98 611.96,308.26 616.46,301.34 621.1,294.2 625.9,286.84 630.86,279.23" fill="none" stroke="#504600" stroke-width="0.99" stroke-dasharray="6 7"/>
<polyline points="630.86,279.23 636,271.37 641.34,263.23 646.88,254.8 652.64,246.05 658.64,236.95" fill="none" stroke="#504600" stroke-width="0.99" stroke-dasharray="6 7"/>
<polyline points="658.64,236.95 664.9,227.48 671.44,217.61 678.29,207.3 685.47,196.52 693.03,185.2" fill="none" stroke="#504600" stroke-width="0.99" stroke-dasharray="6 7"/>
<polyline points="486.41,569.77 487.7,567.55 489,565.31 490.32,563.04 491.64,560.76 492.99,558.45" fill="none" stroke="#504600" stroke-width="0.99" stroke-dasharray="6 7"/>
<polyline points="492.99,558.45 494.34,556.12 495.72,553.76 497.1,551.39 498.51,548.98 499.93,546.55" fill="none" stroke="#504600" stroke-width="0.99" stroke-dasharray="6 7"/>
<polyline points="499.93,546.55 501.36,544.1 502.81,541.62 504.28,539.11 505.77,536.58 507.28,534.02" fill="none" stroke="#504600" stroke-width="0.99" stroke-dasharray="6 7"/>
<polyline points="507.28,534.02 508.8,531.42 510.34,528.8 511.9,526.15 513.48,523.47 515.08,520.76" fill="none" stroke="#504600" stroke-width="0.99" stroke-dasharray="6 7"/>
<polyline points="515.08,520.76 516.7,518.02 518.35,515.24 520.01,512.43 521.69,509.58 523.4,506.7" fill="none" stroke="#504600" stroke-width="0.99" stroke-dasharray="6 7"/>
<polyline points="523.4,506.7 525.13,503.78 526.89,500.83 528.67,497.84 530.48,494.8 532.31,491.73" fill="none" stroke="#504600" stroke-width="0.99" stroke-dasharray="6 7"/>
<polyline points="532.31,491.73 534.16,488.62 536.05,485.46 537.96,482.27 539.91,479.02 541.88,475.73" fill="none" stroke="#504600" stroke-width="0.99" stroke-dasharray="6 7"/>
<polyline points="541.88,475.73 543.88,472.4 545.91,469.01 547.98,465.57 550.08,462.09 552.22,458.55" fill="none" stroke="#504600" stroke-width="0.99" stroke-dasharray="6 7"/>
<polyline points="552.22,458.55 554.39,454.95 556.59,451.3 558.84,447.59 561.13,443.82 563.45,439.98" fill="none" stroke="#504600" stroke-width="0.99" stroke-dasharray="6 7"/>
<polyline points="563.45,439.98 565.82,436.08 568.23,432.12 570.69,428.09 573.19,423.98 575.74,419.8" fill="none" stroke="#504600" stroke-width="0.99" stroke-dasharray="6 7"/>
<polyline points="575.74,419.8 578.34,415.55 581,411.21 583.71,406.8 586.47,402.29 589.3,397.7" fill="none" stroke="#504600" stroke-width="0.99" stroke-dasharray="6 7"/>
<polyline points="589.3,397.7 592.18,393.01 595.13,388.23 598.15,383.35 601.24,378.36 604.39,373.27" fill="none" stroke="#504600" stroke-width="0.99" stroke-dasharray="6 7"/>
<polyline points="604.39,373.27 607.63,368.05 610.94,362.72 614.34,357.27 617.83,351.68 621.41,345.95" fill="none" stroke="#504600" stroke-width="0.99" stroke-dasharray="6 7"/>
<polyline points="621.41,345.95 625.08,340.08 628.86,334.05 632.74,327.87 636.74,321.52 640.86,314.98" fill="none" stroke="#504600" stroke-width="0.99" stroke-dasharray="6 7"/>
<polyline points="640.86,314.98 645.11,308.26 649.49,301.34 654.02,294.2 658.7,286.84 663.54,279.23" fill="none" stroke="#504600" stroke-width="0.99" stroke-dasharray="6 7"/>
<polyline points="663.54,279.23 668.56,271.37 673.76,263.23 679.17,254.8 684.8,246.05 690.65,236.95" fill="none" stroke="#504600" stroke-width="0.99" stroke-dasharray="6 7"/>
<polyline points="514.18,569.77 515.43,567.55 516.7,565.31 517.98,563.04 519.27,560.76 520.58,558.45" fill="none" stroke="#504600" stroke-width="0.99" stroke-dasharray="6 7"/>
<polyline points="520.58,558.45 521.91,556.12 523.24,553.76 524.6,551.39 525.96,548.98 527.35,546.55" fill="none" stroke="#504600" stroke-width="0.99" stroke-dasharray="6 7"/>
<polyline points="527.35,546.55 528.75,544.1 530.16,541.62 531.6,539.11 533.05,536.58 534.52,534.02" fill="none" stroke="#504600" stroke-width="0.99" stroke-dasharray="6 7"/>
<polyline points="534.52,534.02 536,531.42 537.51,528.8 539.03,526.15 540.57,523.47 542.13,520.76" fill="none" stroke="#504600" stroke-width="0.99" stroke-dasharray="6 7"/>
<polyline points="542.13,520.76 543.71,518.02 545.32,515.24 546.94,512.43 548.59,509.58 550.25,506.7" fill="none" stroke="#504600" stroke-width="0.99" stroke-dasharray="6 7"/>
<polyline points="550.25,506.7 551.94,503.78 553.66,500.83 555.4,497.84 557.16,494.8 558.95,491.73" fill="none" stroke="#504600" stroke-width="0.99" stroke-dasharray="6 7"/>
<polyline points="558.95,491.73 560.76,488.62 562.6,485.46 564.47,482.27 566.37,479.02 568.3,475.73" fill="none" stroke="#504600" stroke-width="0.99" stroke-dasharray="6 7"/>
<polyline points="568.3,475.73 570.25,472.4 572.24,469.01 574.26,465.57 576.31,462.09 578.4,458.55" fill="none" stroke="#504600" stroke-width="0.99" stroke-dasharray="6 7"/>
<polyline points="578.4,458.55 580.52,454.95 582.68,451.3 584.87,447.59 587.11,443.82 589.38,439.98" fill="none" stroke="#504600" stroke-width="0.99" stroke-dasharray="6 7"/>
<polyline points="589.38,439.98 591.7,436.08 594.06,432.12 596.46,428.09 598.91,423.98 601.41,419.8" fill="none" stroke="#504600" stroke-width="0.99" stroke-dasharray="6 7"/>
<polyline points="601.41,419.8 603.95,415.55 606.55,411.21 609.2,406.8 611.91,402.29 614.67,397.7" fill="none" stroke="#504600" stroke-width="0.99" stroke-dasharray="6 7"/>
<polyline points="614.67,397.7 617.5,393.01 620.39,388.23 623.34,383.35 626.36,378.36 629.46,373.27" fill="none" stroke="#504600" stroke-width="0.99" stroke-dasharray="6 7"/>
<polyline points="629.46,373.27 632.62,368.05 635.87,362.72 639.2,357.27 642.62,351.68 646.12,345.95" fill="none" stroke="#504600" stroke-width="0.99" stroke-dasharray="6 7"/>
<polyline points="646.12,345.95 649.73,340.08 653.43,334.05 657.24,327.87 661.16,321.52 665.2,314.98" fill="none" stroke="#504600" stroke-width="0.99" stroke-dasharray="6 7"/>
<polyline points="536.21,569.77 537.44,567.55 538.68,565.31 539.94,563.04 541.2,560.76 542.48,558.45" fill="none" stroke="#504600" stroke-width="0.99" stroke-dasharray="6 7"/>
<polyline points="542.48,558.45 543.78,556.12 545.09,553.76 546.42,551.39 547.76,548.98 549.11,546.55" fill="none" stroke="#504600" stroke-width="0.99" stroke-dasharray="6 7"/>
<polyline points="549.11,546.55 550.48,544.1 551.87,541.62 553.27,539.11 554.69,536.58 556.13,534.02" fill="none" stroke="#504600" stroke-width="0.99" stroke-dasharray="6 7"/>
<polyline points="556.13,534.02 557.59,531.42 559.06,528.8 560.55,526.15 562.06,523.47 563.59,520.76" fill="none" stroke="#504600" stroke-width="0.99" stroke-dasharray="6 7"/>
<polyline points="563.59,520.76 565.14,518.02 566.71,515.24 568.31,512.43 569.92,509.58 571.55,506.7" fill="none" stroke="#504600" stroke-width="0.99" stroke-dasharray="6 7"/>
<polyline points="571.55,506.7 573.21,503.78 574.89,500.83 576.6,497.84 578.33,494.8 580.08,491.73" fill="none" stroke="#504600" stroke-width="0.99" stroke-dasharray="6 7"/>
<polyline points="580.08,491.73 581.86,488.62 583.66,485.46 585.5,482.27 587.36,479.02 589.25,475.73" fill="none" stroke="#504600" stroke-width="0.99" stroke-dasharray="6 7"/>
<polyline points="589.25,475.73 591.17,472.4 593.12,469.01 595.1,465.57 597.12,462.09 599.16,458.55" fill="none" stroke="#504600" stroke-width="0.99" stroke-dasharray="6 7"/>
<polyline points="599.16,458.55 601.25,454.95 603.36,451.3 605.52,447.59 607.71,443.82 609.95,439.98" fill="none" stroke="#504600" stroke-width="0.99" stroke-dasharray="6 7"/>
<polyline points="609.95,439.98 612.22,436.08 614.54,432.12 616.9,428.09 619.3,423.98 621.75,419.8" fill="none" stroke="#504600" stroke-width="0.99" stroke-dasharray="6 7"/>
<polyline points="621.75,419.8 624.25,415.55 626.81,411.21 629.41,406.8 632.07,402.29 634.79,397.7" fill="none" stroke="#504600" stroke-width="0.99" stroke-dasharray="6 7"/>
<polyline points="634.79,397.7 637.56,393.01 640.4,388.23 643.31,383.35 646.28,378.36 649.32,373.27" fill="none" stroke="#504600" stroke-width="0.99" stroke-dasharray="6 7"/>
<polyline points="649.32,373.27 652.43,368.05 655.63,362.72 658.9,357.27 662.26,351.68 665.71,345.95" fill="none" stroke="#504600" stroke-width="0.99" stroke-dasharray="6 7"/>
<polyline points="554.53,569.77 555.73,567.55 556.95,565.31 558.18,563.04 559.43,560.76 560.68,558.45" fill="none" stroke="#504600" stroke-width="0.99" stroke-dasharray="6 7"/>
<polyline points="560.68,558.45 561.96,556.12 563.24,553.76 564.54,551.39 565.86,548.98 567.19,546.55" fill="none" stroke="#504600" stroke-width="0.99" stroke-dasharray="6 7"/>
<polyline points="567.19,546.55 568.54,544.1 569.9,541.62 571.28,539.11 572.68,536.58 574.09,534.02" fill="none" stroke="#504600" stroke-width="0.99" stroke-dasharray="6 7"/>
<polyline points="574.09,534.02 575.52,531.42 576.97,528.8 578.43,526.15 579.92,523.47 581.42,520.76" fill="none" stroke="#504600" stroke-width="0.99" stroke-dasharray="6 7"/>
<polyline points="581.42,520.76 582.95,518.02 584.49,515.24 586.06,512.43 587.64,509.58 589.25,506.7" fill="none" stroke="#504600" stroke-width="0.99" stroke-dasharray="6 7"/>
<polyline points="589.25,506.7 590.88,503.78 592.53,500.83 594.21,497.84 595.91,494.8 597.63,491.73" fill="none" stroke="#504600" stroke-width="0.99" stroke-dasharray="6 7"/>
<polyline points="597.63,491.73 599.38,488.62 601.16,485.46 602.96,482.27 604.79,479.02 606.65,475.73" fill="none" stroke="#504600" stroke-width="0.99" stroke-dasharray="6 7"/>
<polyline points="606.65,475.73 608.54,472.4 610.46,469.01 612.41,465.57 614.39,462.09 616.41,458.55" fill="none" stroke="#504600" stroke-width="0.99" stroke-dasharray="6 7"/>
<polyline points="616.41,458.55 618.46,454.95 620.54,451.3 622.66,447.59 624.82,443.82 627.02,439.98" fill="none" stroke="#504600" stroke-width="0.99" stroke-dasharray="6 7"/>
<polyline points="627.02,439.98 629.26,436.08 631.54,432.12 633.86,428.09 636.23,423.98 638.65,419.8" fill="none" stroke="#504600" stroke-width="0.99" stroke-dasharray="6 7"/>
<polyline points="638.65,419.8 641.11,415.55 643.62,411.21 646.19,406.8 648.81,402.29 651.48,397.7" fill="none" stroke="#504600" stroke-width="0.99" stroke-dasharray="6 7"/>
<polyline points="651.48,397.7 654.22,393.01 657.02,388.23 659.88,383.35 662.8,378.36 665.8,373.27" fill="none" stroke="#504600" stroke-width="0.99" stroke-dasharray="6 7"/>
<polyline points="583.93,569.77 585.1,567.55 586.28,565.31 587.48,563.04 588.69,560.76 589.91,558.45" fill="none" stroke="#504600" stroke-width="0.99" stroke-dasharray="6 7"/>
<polyline points="589.91,558.45 591.14,556.12 592.39,553.76 593.65,551.39 594.93,548.98 596.22,546.55" fill="none" stroke="#504600" stroke-width="0.99" stroke-dasharray="6 7"/>
<polyline points="596.22,546.55 597.53,544.1 598.85,541.62 600.19,539.11 601.55,536.58 602.92,534.02" fill="none" stroke="#504600" stroke-width="0.99" stroke-dasharray="6 7"/>
<polyline points="602.92,534.02 604.31,531.42 605.71,528.8 607.14,526.15 608.58,523.47 610.04,520.76" fill="none" stroke="#504600" stroke-width="0.99" stroke-dasharray="6 7"/>
<polyline points="610.04,520.76 611.52,518.02 613.02,515.24 614.54,512.43 616.09,509.58 617.65,506.7" fill="none" stroke="#504600" stroke-width="0.99" stroke-dasharray="6 7"/>
<polyline points="617.65,506.7 619.23,503.78 620.84,500.83 622.47,497.84 624.12,494.8 625.8,491.73" fill="none" stroke="#504600" stroke-width="0.99" stroke-dasharray="6 7"/>
<polyline points="625.8,491.73 627.5,488.62 629.23,485.46 630.98,482.27 632.77,479.02 634.57,475.73" fill="none" stroke="#504600" stroke-width="0.99" stroke-dasharray="6 7"/>
<polyline points="634.57,475.73 636.41,472.4 638.28,469.01 640.18,465.57 642.11,462.09 644.07,458.55" fill="none" stroke="#504600" stroke-width="0.99" stroke-dasharray="6 7"/>
<polyline points="644.07,458.55 646.07,454.95 648.1,451.3 650.16,447.59 652.27,443.82 654.41,439.98" fill="none" stroke="#504600" stroke-width="0.99" stroke-dasharray="6 7"/>
<polyline points="654.41,439.98 656.59,436.08 658.81,432.12 661.08,428.09 663.38,423.98 665.74,419.8" fill="none" stroke="#504600" stroke-width="0.99" stroke-dasharray="6 7"/>
</g>
<rect x="60.5" y="24.5" width="599" height="545" fill="none" stroke="#0000b4" stroke-width="0.99" shape-rendering="crispEdges"/>
<g clip-path="url(#c)" fill="none" stroke-linejoin="round" shape-rendering="crispEdges">
<polyline points="263.5,541.95 262.42,540.7 261.34,539.45 260.25,538.18 259.17,536.92 258.08,535.64 256.99,534.36 255.89,533.07 254.8,531.77 253.7,530.46 252.6,529.15 251.49,527.83 250.39,526.51 249.28,525.17 248.17,523.83 247.06,522.48 245.94,521.12 244.83,519.75 243.71,518.38 242.58,517 241.46,515.61 240.33,514.21 239.2,512.8 238.07,511.38 236.94,509.96 235.8,508.53 234.66,507.08 233.52,505.63 232.38,504.17 231.23,502.7 230.08,501.22 228.93,499.73 228.85,499.64 228.05,498.44 227.23,497.23 226.42,496.02 225.6,494.8 224.78,493.58 223.95,492.35 223.12,491.11 222.29,489.87 221.45,488.62 220.6,487.36 219.76,486.1 218.91,484.83 218.05,483.55 217.2,482.27 216.34,480.97 215.47,479.67 214.6,478.37 213.73,477.05 212.85,475.73 211.98,474.4 211.09,473.07 210.21,471.72 209.32,470.37 208.42,469.01 207.52,467.64 206.62,466.27 205.72,464.88 204.81,463.49 203.9,462.09 202.98,460.68 202.07,459.26 201.14,457.83 200.22,456.4 199.29,454.95 198.36,453.5 197.42,452.03 196.49,450.56 195.54,449.08 194.6,447.59 193.65,446.09 192.7,444.58 191.75,443.05 190.79,441.52 189.83,439.98 188.86,438.43 187.9,436.87 186.93,435.3 185.95,433.71 184.98,432.12 184,430.52 183.02,428.9 182.03,427.27 181.04,425.63 180.05,423.98 179.06,422.32 178.06,420.65 177.07,418.96 176.06,417.26 175.06,415.55 174.05,413.82 173.04,412.09 172.03,410.34 171.02,408.57 170,406.8 168.98,405 167.95,403.2 166.93,401.38 165.9,399.55 164.87,397.7 163.84,395.84 162.8,393.96 161.77,392.07 160.73,390.16 159.68,388.23 158.64,386.29 157.59,384.34 156.54,382.36 155.49,380.37 154.44,378.36 153.39,376.34 152.33,374.29 151.27,372.23 150.21,370.15 149.15,368.05 148.08,365.94 147.01,363.8 145.94,361.64 144.87,359.46 143.8,357.27 142.73,355.05 141.65,352.81 140.58,350.54 139.5,348.26 138.42,345.95 137.34,343.62 136.25,341.26 135.17,338.89 134.09,336.48 133,334.05 131.91,331.6 130.82,329.12 129.73,326.61 128.64,324.08 127.55,321.52 126.46,318.92 125.37,316.3 124.28,313.65 123.18,310.97 122.09,308.26 121,305.52 119.91,302.74 118.81,299.93 117.72,297.08 116.63,294.2 115.53,291.28 114.44,288.33 113.35,285.34 112.26,282.3 111.17,279.23 110.09,276.12 109,272.96 107.92,269.77 106.83,266.52 105.75,263.23 104.68,259.9 103.6,256.51 102.53,253.07 101.46,249.59 100.4,246.05 99.34,242.45 98.28,238.8 97.23,235.09 96.18,231.32 95.14,227.48 94.11,223.59 93.08,219.62 92.06,215.59 91.04,211.48 90.04,207.3 89.04,203.05 88.05,198.71 87.07,194.3 86.11,189.79 85.16,185.2 84.21,180.51 83.29,175.73 82.38,170.85 81.48,165.86 80.6,160.77 79.74,155.55 78.9,150.22 78.09,144.77 77.29,139.18 76.53,133.45 75.79,127.58 75.08,121.55 74.4,115.37 73.76,109.02 73.16,102.48 72.6,95.76 72.09,88.84 71.62,81.7 71.21,74.34 70.87,66.73 70.58,58.87 70.37,50.73 70.27,44.44" fill="none" stroke="#0000b4" stroke-width="2.2" />
<polyline points="206.5,542 272.5,527.5 271.8,520.6 266.3,515.1 253.2,475.6 250.8,472.1 254.4,467.9 278.1,462 278.3,426.1 286.7,406.1 289.4,402 299,393 299.7,390.3 285.8,345.3 279.9,314.2 279.75,279.5 280.5,269.75 285,263.75 305,242 308,238.7 315.3,230.7 320.7,224.7 332.7,217.3 344.7,210.7 356.7,202.7 370,194 378.5,188.5 402.5,172 461,148.75 454.25,116.5 454.25,111.25 485.3,60.4 554.4,24.7" fill="none" stroke="#b00000" stroke-width="2" />
<polyline points="176.2,542 223.6,527.5 207.8,517.9 207.1,513 215.2,471.8 247.9,462 217.9,425.4 209.9,405.4 211.7,402 219.3,395.8 224.1,388.9 239.1,345.3 237.7,326.2 237.7,279.5 238.5,278 271.3,238.7 279.3,230.7 287.3,222.7 296.7,216 310,208 323.3,199.3 332.7,192 339.3,185.3 347.3,180 356.7,174 363.3,170.7 370,168.4 419.6,148.2 405.5,118.75 401.75,114.25 399.8,111.4 425.8,60 488.5,24.7" fill="none" stroke="#004000" stroke-width="2" />
</g>
<g stroke="#000" stroke-width="0.99" fill="none" shape-rendering="crispEdges">
<line x1="659.5" y1="24.5" x2="623.9" y2="21.3"/>
<line x1="654" y1="24.5" x2="665" y2="24.5"/>
<line x1="659.5" y1="19" x2="659.5" y2="30"/>
<line x1="623.9" y1="21.3" x2="622.37" y2="3.36"/>
<line x1="627.88" y1="21.66" x2="626.36" y2="3.72"/>
<line x1="631.87" y1="22.02" x2="630.34" y2="4.08"/>
<line x1="659.5" y1="118.5" x2="625.5" y2="127.1"/>
<line x1="654" y1="118.5" x2="665" y2="118.5"/>
<line x1="659.5" y1="113" x2="659.5" y2="124"/>
<line x1="625.5" y1="127.1" x2="615.38" y2="112.21"/>
<line x1="629.38" y1="126.12" x2="624.32" y2="118.67"/>
<line x1="659.5" y1="185.5" x2="627.1" y2="169"/>
<line x1="654" y1="185.5" x2="665" y2="185.5"/>
<line x1="659.5" y1="180" x2="659.5" y2="191"/>
<polygon points="627.1,169 635.27,152.96 631.11,171.04" fill="#000"/>
<line x1="659.5" y1="236.3" x2="630.5" y2="216.4"/>
<line x1="654" y1="236.3" x2="665" y2="236.3"/>
<line x1="659.5" y1="230.8" x2="659.5" y2="241.8"/>
<polygon points="630.5,216.4 640.68,201.56 634.21,218.95" fill="#000"/>
<line x1="636.68" y1="220.64" x2="644.14" y2="204.26"/>
<line x1="659.5" y1="269.2" x2="630" y2="253"/>
<line x1="654" y1="269.2" x2="665" y2="269.2"/>
<line x1="659.5" y1="263.7" x2="659.5" y2="274.7"/>
<polygon points="630,253 638.66,237.22 633.94,255.17" fill="#000"/>
<polygon points="634.82,255.65 643.49,239.87 638.77,257.81" fill="#000"/>
<line x1="639.64" y1="258.29" x2="645.43" y2="241.25"/>
<line x1="659.5" y1="279" x2="629.5" y2="262"/>
<line x1="654" y1="279" x2="665" y2="279"/>
<line x1="659.5" y1="273.5" x2="659.5" y2="284.5"/>
<polygon points="629.5,262 638.37,246.34 633.42,264.22" fill="#000"/>
<polygon points="634.29,264.71 643.16,249.05 638.2,266.93" fill="#000"/>
<line x1="639.07" y1="267.42" x2="645.09" y2="250.46"/>
<line x1="659.5" y1="287.7" x2="631" y2="271"/>
<line x1="654" y1="287.7" x2="665" y2="287.7"/>
<line x1="659.5" y1="282.2" x2="659.5" y2="293.2"/>
<polygon points="631,271 640.1,255.47 634.88,273.28" fill="#000"/>
<polygon points="635.75,273.78 644.85,258.25 639.63,276.06" fill="#000"/>
<line x1="640.49" y1="276.56" x2="646.76" y2="259.69"/>
<line x1="659.5" y1="345.5" x2="628.25" y2="327.5"/>
<line x1="654" y1="345.5" x2="665" y2="345.5"/>
<line x1="659.5" y1="340" x2="659.5" y2="351"/>
<polygon points="628.25,327.5 637.23,311.9 632.15,329.75" fill="#000"/>
<line x1="633.02" y1="330.25" x2="639.16" y2="313.32"/>
<line x1="659.5" y1="397.5" x2="630.9" y2="376.4"/>
<line x1="654" y1="397.5" x2="665" y2="397.5"/>
<line x1="659.5" y1="392" x2="659.5" y2="403"/>
<polygon points="630.9,376.4 641.59,361.92 634.52,379.07" fill="#000"/>
<line x1="659.5" y1="475.5" x2="626.4" y2="463.25"/>
<line x1="654" y1="475.5" x2="665" y2="475.5"/>
<line x1="659.5" y1="470" x2="659.5" y2="481"/>
<line x1="626.4" y1="463.25" x2="629.62" y2="445.54"/>
<line x1="630.15" y1="464.64" x2="631.76" y2="455.78"/>
<line x1="659.5" y1="520.5" x2="685.6" y2="545.4"/>
<line x1="654" y1="520.5" x2="665" y2="520.5"/>
<line x1="659.5" y1="515" x2="659.5" y2="526"/>
<line x1="682.71" y1="542.64" x2="677.72" y2="550.13"/>
<line x1="659.5" y1="542.5" x2="626.1" y2="554.6"/>
<line x1="654" y1="542.5" x2="665" y2="542.5"/>
<line x1="659.5" y1="537" x2="659.5" y2="548"/>
</g>
<text x="66" y="20.8" font-family="'Liberation Serif','Times New Roman',serif" font-weight="bold" font-size="13" fill="#0000a8" stroke="#0000a8" stroke-width="0.25" textLength="124" lengthAdjust="spacingAndGlyphs">X0372 (30372) Sounding</text>
<text x="563.5" y="20.8" font-family="'Liberation Serif','Times New Roman',serif" font-weight="bold" font-size="13" fill="#0000a8" stroke="#0000a8" stroke-width="0.25" textLength="89" lengthAdjust="spacingAndGlyphs">1200Z 12 DEC 25</text>
<g font-family="'Liberation Serif','Times New Roman',serif" font-weight="bold" font-size="13" fill="#0000a8" stroke="#0000a8" stroke-width="0.25" transform="translate(698.5,0) scale(0.965,1)">
<text x="0" y="35.4">WMO:30372</text>
<text x="0" y="50.17">TP:288</text>
<text x="0" y="64.94">MW:312</text>
<text x="0" y="79.71">FRZ: BG</text>
<text x="0" y="94.48">WB0: BG</text>
<text x="0" y="109.25">PW:0.04</text>
<text x="0" y="124.02">RH:44.7</text>
<text x="0" y="138.79">MAXT:-15.1</text>
<text x="0" y="153.56">TH:4902</text>
<text x="0" y="168.33">L57:2.5</text>
<text x="0" y="183.1">LCL:858</text>
<text x="0" y="197.87">LI:21.9</text>
<text x="0" y="212.64">SI:18.5</text>
<text x="0" y="227.41">TT:22</text>
<text x="0" y="242.18">KI:-23</text>
<text x="0" y="256.95">SW:56</text>
<text x="0" y="271.72">EI:4.7</text>
<text x="0" y="286.49">-PARCEL-</text>
<text x="0" y="301.26">CAPE:54</text>
<text x="0" y="316.03">CINH:40319</text>
<text x="0" y="330.8">LCL:776</text>
<text x="0" y="345.57">CAP:21.1</text>
<text x="0" y="360.34">LFC:-1</text>
<text x="0" y="375.11">-WIND-</text>
<text x="0" y="389.88">STM:331/22</text>
<text x="0" y="404.65">HEL:143</text>
<text x="0" y="419.42">SHR+:0.0</text>
<text x="0" y="434.19">SRDS:89</text>
<text x="0" y="448.96">EHI:0.0</text>
<text x="0" y="463.73">BRN:0.4</text>
<text x="0" y="478.5">BSHR:121</text>
</g>
<g font-family="'Liberation Sans',Arial,sans-serif" stroke="#f5fcf9" stroke-width="0.2" font-size="17.8" fill="#0000d0">
<text x="31.4" y="30.85" textLength="22.3" lengthAdjust="spacingAndGlyphs">100</text>
<text x="27.4" y="191.6" textLength="26.2" lengthAdjust="spacingAndGlyphs">200</text>
<text x="27.4" y="285.63" textLength="26.2" lengthAdjust="spacingAndGlyphs">300</text>
<text x="27.4" y="352.35" textLength="26.2" lengthAdjust="spacingAndGlyphs">400</text>
<text x="27.4" y="404.1" textLength="26.2" lengthAdjust="spacingAndGlyphs">500</text>
<text x="27.4" y="446.38" textLength="26.2" lengthAdjust="spacingAndGlyphs">600</text>
<text x="27.4" y="482.13" textLength="26.2" lengthAdjust="spacingAndGlyphs">700</text>
<text x="27.4" y="513.1" textLength="26.2" lengthAdjust="spacingAndGlyphs">800</text>
<text x="27.4" y="540.42" textLength="26.2" lengthAdjust="spacingAndGlyphs">900</text>
<text x="22.4" y="564.85" textLength="31.2" lengthAdjust="spacingAndGlyphs">1000</text>
</g>
<text x="33.4" y="583.7" font-family="'Liberation Sans',Arial,sans-serif" stroke="#f5fcf9" stroke-width="0.2" font-size="17.3" fill="#0000d0" textLength="20" lengthAdjust="spacingAndGlyphs">mb</text>
<g font-family="'Liberation Sans',Arial,sans-serif" stroke="#f5fcf9" stroke-width="0.2" font-size="17.3" fill="#0000d0">
<text x="45.7" y="583.7" textLength="32.35" lengthAdjust="spacingAndGlyphs">−50</text>
<text x="103.2" y="583.7" textLength="35.1" lengthAdjust="spacingAndGlyphs">−40</text>
<text x="163.6" y="583.7" textLength="34.1" lengthAdjust="spacingAndGlyphs">−30</text>
<text x="222.95" y="583.7" textLength="34.85" lengthAdjust="spacingAndGlyphs">−20</text>
<text x="285.2" y="583.7" textLength="29.35" lengthAdjust="spacingAndGlyphs">−10</text>
<text x="362.2" y="583.7">0</text>
<text x="415.2" y="583.7" textLength="16.6" lengthAdjust="spacingAndGlyphs">10</text>
<text x="473.2" y="583.7" textLength="21.2" lengthAdjust="spacingAndGlyphs">20</text>
<text x="533.2" y="583.7" textLength="21.6" lengthAdjust="spacingAndGlyphs">30</text>
<text x="592.4" y="583.7" textLength="22.4" lengthAdjust="spacingAndGlyphs">40</text>
<text x="655.2" y="583.7">C</text>
</g>
<g font-family="'Liberation Sans',Arial,sans-serif" stroke="#f5fcf9" stroke-width="0.2" font-size="17.8" fill="#504600">
<text x="104.2" y="595.8" textLength="19.6" lengthAdjust="spacingAndGlyphs">0.1</text>
<text x="141.7" y="595.8" textLength="26.1" lengthAdjust="spacingAndGlyphs">0.2</text>
<text x="212.95" y="595.8" textLength="25.35" lengthAdjust="spacingAndGlyphs">0.6</text>
<text x="250.45" y="595.8" textLength="20.35" lengthAdjust="spacingAndGlyphs">1.0</text>
<text x="300.2" y="595.8" textLength="24.35" lengthAdjust="spacingAndGlyphs">2.0</text>
<text x="331.7" y="595.8" textLength="25.1" lengthAdjust="spacingAndGlyphs">3.0</text>
<text x="374.2" y="595.8" textLength="24.6" lengthAdjust="spacingAndGlyphs">5.0</text>
<text x="432.2" y="595.8" textLength="31.6" lengthAdjust="spacingAndGlyphs">10.0</text>
<text x="494.2" y="595.8" textLength="37.6" lengthAdjust="spacingAndGlyphs">20.0</text>
<text x="565.8" y="595.8" textLength="36" lengthAdjust="spacingAndGlyphs">40.0</text>
<text x="640.2" y="595.8" textLength="40" lengthAdjust="spacingAndGlyphs">g/kg</text>
</g>
</svg></body></html>
